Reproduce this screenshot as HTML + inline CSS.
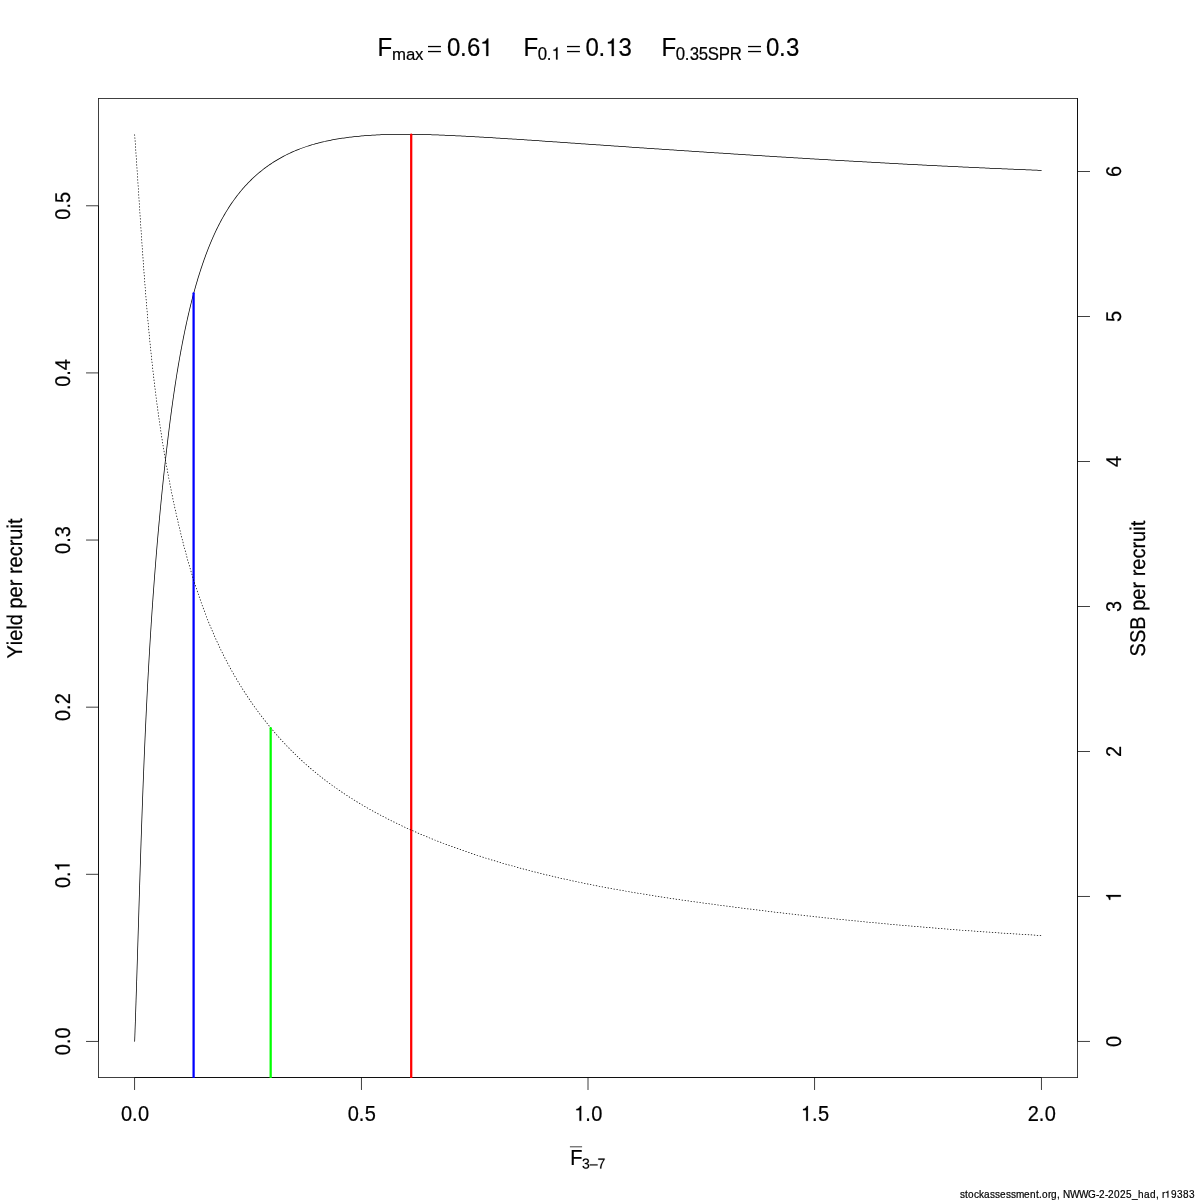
<!DOCTYPE html>
<html><head><meta charset="utf-8"><title>ypr</title>
<style>html,body{margin:0;padding:0;background:#fff}svg{display:block;will-change:transform}text{font-family:"Liberation Sans",sans-serif;fill:#000;font-kerning:none;white-space:pre;stroke:#000;stroke-width:0.2px;stroke-linejoin:round}path.g{stroke:#000;stroke-width:0.2px;stroke-linejoin:round;vector-effect:non-scaling-stroke}</style></head><body>
<svg width="1200" height="1200" viewBox="0 0 1200 1200">
<rect width="1200" height="1200" fill="#fff"/>
<g fill="#000">
<rect x="98.025" y="98.025" width="979.950" height="0.75"/>
<rect x="98.025" y="1077.225" width="979.950" height="0.75"/>
<rect x="98.025" y="98.400" width="0.75" height="979.200"/>
<rect x="1077.225" y="98.400" width="0.75" height="979.200"/>
<rect x="134.670" y="1077.225" width="906.666" height="0.75"/>
<rect x="134.295" y="1077.600" width="0.75" height="12.375"/>
<rect x="360.962" y="1077.600" width="0.75" height="12.375"/>
<rect x="587.628" y="1077.600" width="0.75" height="12.375"/>
<rect x="814.294" y="1077.600" width="0.75" height="12.375"/>
<rect x="1040.961" y="1077.600" width="0.75" height="12.375"/>
<rect x="98.025" y="205.830" width="0.75" height="835.500"/>
<rect x="86.025" y="1040.955" width="12.375" height="0.75"/>
<rect x="86.025" y="873.855" width="12.375" height="0.75"/>
<rect x="86.025" y="706.755" width="12.375" height="0.75"/>
<rect x="86.025" y="539.655" width="12.375" height="0.75"/>
<rect x="86.025" y="372.555" width="12.375" height="0.75"/>
<rect x="86.025" y="205.455" width="12.375" height="0.75"/>
</g>
<path fill="#000" d="M135.04,1041.34 135.10,1039.84 135.15,1038.35 135.20,1036.85 135.25,1035.35 135.31,1033.85 135.36,1032.35 135.41,1030.85 135.46,1029.35 135.51,1027.86 135.56,1026.36 135.62,1024.86 135.67,1023.36 135.72,1021.86 135.77,1020.36 135.82,1018.86 135.87,1017.36 135.92,1015.87 135.97,1014.37 136.02,1012.87 136.07,1011.37 136.12,1009.87 136.17,1008.37 136.22,1006.87 136.27,1005.37 136.32,1003.88 136.37,1002.38 136.41,1000.88 136.46,999.38 136.51,997.88 136.56,996.38 136.61,994.88 136.66,993.38 136.71,991.89 136.75,990.39 136.80,988.89 136.85,987.39 136.90,985.89 136.95,984.39 136.99,982.89 137.04,981.39 137.09,979.90 137.14,978.40 137.18,976.90 137.23,975.40 137.28,973.90 137.33,972.40 137.37,970.90 137.42,969.40 137.47,967.91 137.51,966.41 137.56,964.91 137.61,963.41 137.65,961.91 137.70,960.41 137.75,958.91 137.79,957.41 137.84,955.91 137.89,954.42 137.93,952.92 137.98,951.42 138.03,949.92 138.07,948.42 138.12,946.92 138.17,945.42 138.21,943.92 138.26,942.43 138.31,940.93 138.35,939.43 138.40,937.93 138.44,936.43 138.49,934.93 138.54,933.43 138.58,931.93 138.63,930.43 138.68,928.94 138.72,927.44 138.77,925.94 138.81,924.44 138.86,922.94 138.91,921.44 138.95,919.94 139.00,918.44 139.05,916.95 139.09,915.45 139.14,913.95 139.18,912.45 139.23,910.95 139.28,909.45 139.32,907.95 139.37,906.45 139.42,904.96 139.46,903.46 139.51,901.96 139.56,900.46 139.60,898.96 139.65,897.46 139.70,895.96 139.74,894.46 139.79,892.96 139.84,891.47 139.89,889.97 139.93,888.47 139.98,886.97 140.03,885.47 140.07,883.97 140.12,882.47 140.17,880.97 140.22,879.48 140.26,877.98 140.31,876.48 140.36,874.98 140.41,873.48 140.46,871.98 140.50,870.48 140.55,868.98 140.60,867.49 140.65,865.99 140.70,864.49 140.75,862.99 140.80,861.49 140.84,859.99 140.89,858.49 140.94,857.00 140.99,855.50 141.04,854.00 141.09,852.50 141.14,851.00 141.19,849.50 141.24,848.00 141.29,846.50 141.34,845.01 141.39,843.51 141.44,842.01 141.49,840.51 141.54,839.01 141.59,837.51 141.64,836.01 141.70,834.52 141.75,833.02 141.80,831.52 141.85,830.02 141.90,828.52 141.95,827.02 142.01,825.52 142.06,824.03 142.11,822.53 142.16,821.03 142.22,819.53 142.27,818.03 142.32,816.53 142.38,815.03 142.43,813.54 142.48,812.04 142.54,810.54 142.59,809.04 142.65,807.54 142.70,806.04 142.76,804.54 142.81,803.05 142.87,801.55 142.92,800.05 142.98,798.55 143.03,797.05 143.09,795.55 143.14,794.06 143.20,792.56 143.26,791.06 143.31,789.56 143.37,788.06 143.43,786.56 143.49,785.07 143.54,783.57 143.60,782.07 143.66,780.57 143.72,779.07 143.78,777.57 143.84,776.08 143.90,774.58 143.96,773.08 144.02,771.58 144.08,770.08 144.14,768.58 144.20,767.09 144.26,765.59 144.32,764.09 144.38,762.59 144.44,761.09 144.51,759.59 144.57,758.10 144.63,756.60 144.69,755.10 144.76,753.60 144.82,752.10 144.88,750.61 144.95,749.11 145.01,747.61 145.08,746.11 145.14,744.61 145.21,743.12 145.27,741.62 145.34,740.12 145.40,738.62 145.47,737.12 145.54,735.63 145.60,734.13 145.67,732.63 145.74,731.13 145.81,729.63 145.88,728.14 145.94,726.64 146.01,725.14 146.08,723.64 146.15,722.14 146.22,720.65 146.29,719.15 146.36,717.65 146.43,716.15 146.51,714.66 146.58,713.16 146.65,711.66 146.72,710.16 146.80,708.67 146.87,707.17 146.94,705.67 147.02,704.17 147.09,702.67 147.17,701.18 147.24,699.68 147.32,698.18 147.39,696.68 147.47,695.19 147.54,693.69 147.62,692.19 147.70,690.69 147.78,689.20 147.85,687.70 147.93,686.20 148.01,684.71 148.09,683.21 148.17,681.71 148.25,680.21 148.33,678.72 148.41,677.22 148.49,675.72 148.58,674.22 148.66,672.73 148.74,671.23 148.82,669.73 148.91,668.24 148.99,666.74 149.08,665.24 149.16,663.74 149.25,662.25 149.33,660.75 149.42,659.25 149.50,657.76 149.59,656.26 149.68,654.76 149.77,653.27 149.85,651.77 149.94,650.27 150.03,648.78 150.12,647.28 150.21,645.78 150.30,644.29 150.39,642.79 150.49,641.29 150.58,639.80 150.67,638.30 150.76,636.80 150.86,635.31 150.95,633.81 151.04,632.31 151.14,630.82 151.24,629.32 151.33,627.82 151.43,626.33 151.52,624.83 151.62,623.34 151.72,621.84 151.82,620.34 151.92,618.85 152.02,617.35 152.12,615.86 152.22,614.36 152.32,612.86 152.42,611.37 152.52,609.87 152.62,608.38 152.73,606.88 152.83,605.38 152.93,603.89 153.04,602.39 153.14,600.90 153.25,599.40 153.36,597.91 153.46,596.41 153.57,594.91 153.68,593.42 153.79,591.92 153.90,590.43 154.00,588.93 154.11,587.44 154.23,585.94 154.34,584.45 154.45,582.95 154.56,581.46 154.67,579.96 154.79,578.47 154.90,576.97 155.02,575.48 155.13,573.98 155.25,572.49 155.36,570.99 155.48,569.50 155.60,568.00 155.72,566.51 155.83,565.01 155.95,563.52 156.07,562.02 156.19,560.53 156.32,559.03 156.44,557.54 156.56,556.05 156.68,554.55 156.81,553.06 156.93,551.56 157.05,550.07 157.18,548.57 157.31,547.08 157.43,545.59 157.56,544.09 157.69,542.60 157.82,541.10 157.95,539.61 158.08,538.12 158.21,536.62 158.34,535.13 158.47,533.64 158.60,532.14 158.73,530.65 158.87,529.16 159.00,527.66 159.14,526.17 159.27,524.68 159.41,523.18 159.55,521.69 159.68,520.20 159.82,518.70 159.96,517.21 160.10,515.72 160.24,514.23 160.38,512.73 160.52,511.24 160.67,509.75 160.81,508.25 160.95,506.76 161.10,505.27 161.24,503.78 161.39,502.29 161.54,500.79 161.68,499.30 161.83,497.81 161.98,496.32 162.13,494.83 162.28,493.33 162.43,491.84 162.58,490.35 162.73,488.86 162.89,487.37 163.04,485.88 163.19,484.38 163.35,482.89 163.51,481.40 163.66,479.91 163.82,478.42 163.98,476.93 164.14,475.44 164.30,473.95 164.46,472.46 164.62,470.97 164.78,469.47 164.94,467.98 165.10,466.49 165.27,465.00 165.43,463.51 165.60,462.02 165.76,460.53 165.93,459.04 166.10,457.55 166.27,456.06 166.44,454.57 166.61,453.08 166.78,451.59 166.95,450.10 167.12,448.62 167.30,447.13 167.47,445.64 167.65,444.15 167.82,442.66 168.00,441.17 168.18,439.68 168.35,438.19 168.53,436.70 168.71,435.22 168.90,433.73 169.08,432.24 169.26,430.75 169.45,429.26 169.63,427.78 169.82,426.29 170.01,424.80 170.20,423.31 170.39,421.83 170.58,420.34 170.77,418.85 170.96,417.37 171.16,415.88 171.35,414.39 171.55,412.91 171.75,411.42 171.95,409.94 172.15,408.45 172.36,406.96 172.56,405.48 172.77,403.99 172.97,402.51 173.18,401.03 173.39,399.54 173.61,398.06 173.82,396.57 174.03,395.09 174.25,393.61 174.47,392.12 174.69,390.64 174.91,389.16 175.13,387.67 175.36,386.19 175.58,384.71 175.81,383.23 176.04,381.75 176.27,380.27 176.51,378.79 176.74,377.31 176.98,375.83 177.22,374.35 177.46,372.87 177.70,371.39 177.95,369.91 178.20,368.43 178.44,366.95 178.70,365.47 178.95,364.00 179.20,362.52 179.46,361.04 179.72,359.57 179.98,358.09 180.24,356.61 180.51,355.14 180.78,353.66 181.05,352.19 181.32,350.71 181.59,349.24 181.87,347.77 182.15,346.29 182.43,344.82 182.71,343.35 183.00,341.88 183.28,340.41 183.57,338.94 183.87,337.47 184.16,336.00 184.46,334.53 184.76,333.06 185.06,331.59 185.37,330.12 185.67,328.66 185.98,327.19 186.30,325.73 186.61,324.26 186.93,322.80 187.25,321.33 187.58,319.87 187.90,318.41 188.24,316.94 188.57,315.48 188.91,314.02 189.25,312.56 189.59,311.10 189.94,309.65 190.29,308.19 190.64,306.73 191.00,305.28 191.36,303.82 191.72,302.37 192.09,300.92 192.46,299.47 192.84,298.01 193.22,296.56 193.60,295.12 193.99,293.67 194.38,292.22 194.78,290.78 195.18,289.33 195.58,287.89 195.99,286.45 196.40,285.01 196.82,283.57 197.24,282.13 197.67,280.70 198.10,279.26 198.53,277.83 198.97,276.39 199.42,274.96 199.87,273.53 200.32,272.11 200.78,270.68 201.25,269.26 201.72,267.83 202.19,266.41 202.67,264.99 203.16,263.58 203.65,262.16 204.14,260.75 204.64,259.33 205.15,257.92 205.66,256.52 206.18,255.11 206.70,253.71 207.23,252.30 207.76,250.91 208.30,249.51 208.85,248.11 209.40,246.72 209.96,245.33 210.53,243.95 211.11,242.57 211.69,241.19 212.28,239.81 212.87,238.43 213.48,237.06 214.09,235.70 214.71,234.33 215.34,232.98 215.97,231.62 216.61,230.27 217.27,228.92 217.93,227.58 218.60,226.24 219.27,224.90 219.96,223.57 220.66,222.25 221.36,220.93 222.08,219.61 222.80,218.30 223.53,217.00 224.28,215.70 225.03,214.40 225.79,213.12 226.56,211.83 227.35,210.56 228.14,209.29 228.94,208.02 229.75,206.77 230.57,205.52 231.41,204.27 232.25,203.04 233.10,201.81 233.97,200.59 234.84,199.37 235.73,198.17 236.62,196.97 237.53,195.78 238.45,194.60 239.38,193.43 240.32,192.26 241.27,191.11 242.23,189.96 243.21,188.83 244.19,187.70 245.19,186.59 246.20,185.49 247.22,184.39 248.25,183.31 249.29,182.24 250.35,181.18 251.42,180.13 252.49,179.09 253.58,178.07 254.68,177.05 255.79,176.05 256.91,175.06 258.04,174.08 259.18,173.12 260.34,172.16 261.50,171.22 262.67,170.29 263.85,169.37 265.04,168.47 266.24,167.58 267.45,166.70 268.67,165.83 269.90,164.98 271.14,164.14 272.39,163.32 273.64,162.50 274.91,161.70 276.18,160.92 277.46,160.14 278.75,159.38 280.04,158.64 281.35,157.91 282.66,157.19 283.98,156.49 285.31,155.80 286.64,155.12 287.98,154.46 289.33,153.81 290.68,153.18 292.05,152.56 293.41,151.95 294.79,151.36 296.16,150.78 297.55,150.21 298.94,149.66 300.33,149.12 301.74,148.59 303.14,148.08 304.55,147.58 305.97,147.10 307.39,146.62 308.81,146.16 310.24,145.71 311.67,145.28 313.10,144.85 314.54,144.44 315.98,144.04 317.43,143.65 318.88,143.28 320.33,142.91 321.78,142.55 323.24,142.21 324.70,141.87 326.16,141.55 327.62,141.24 329.09,140.93 330.56,140.64 332.03,140.35 333.50,140.08 334.97,139.81 336.45,139.55 337.92,139.31 339.40,139.07 340.88,138.83 342.36,138.61 343.84,138.40 345.33,138.19 346.81,137.99 348.30,137.79 349.78,137.61 351.27,137.43 352.76,137.26 354.25,137.10 355.73,136.94 357.22,136.79 358.72,136.64 360.21,136.50 361.70,136.37 363.19,136.24 364.69,136.11 366.18,136.00 367.67,135.89 369.17,135.78 370.66,135.68 372.16,135.58 373.65,135.49 375.15,135.41 376.64,135.33 378.14,135.25 379.64,135.18 381.13,135.11 382.63,135.05 384.13,135.00 385.63,134.94 387.12,134.90 388.62,134.85 390.12,134.82 391.62,134.78 393.12,134.75 394.61,134.72 396.11,134.70 397.61,134.68 399.11,134.67 400.61,134.66 402.11,134.65 403.61,134.65 405.10,134.65 406.60,134.65 408.10,134.66 409.60,134.67 411.10,134.68 412.60,134.70 414.10,134.72 415.59,134.74 417.09,134.76 418.59,134.79 420.09,134.82 421.59,134.86 423.09,134.89 424.59,134.93 426.08,134.97 427.58,135.01 429.08,135.06 430.58,135.11 432.08,135.16 433.58,135.21 435.07,135.26 436.57,135.31 438.07,135.37 439.57,135.43 441.07,135.49 442.56,135.55 444.06,135.61 445.56,135.68 447.06,135.74 448.55,135.81 450.05,135.87 451.55,135.94 453.05,136.01 454.55,136.08 456.04,136.15 457.54,136.22 459.04,136.30 460.54,136.37 462.03,136.45 463.53,136.52 465.03,136.60 466.53,136.67 468.02,136.75 469.52,136.83 471.02,136.91 472.51,136.99 474.01,137.07 475.51,137.15 477.01,137.24 478.50,137.32 480.00,137.41 481.50,137.49 482.99,137.58 484.49,137.66 485.99,137.75 487.48,137.84 488.98,137.92 490.48,138.01 491.97,138.10 493.47,138.19 494.97,138.28 496.46,138.38 497.96,138.47 499.46,138.56 500.95,138.65 502.45,138.75 503.95,138.84 505.44,138.93 506.94,139.03 508.44,139.13 509.93,139.22 511.43,139.32 512.92,139.41 514.42,139.51 515.92,139.61 517.41,139.71 518.91,139.81 520.41,139.90 521.90,140.00 523.40,140.10 524.89,140.20 526.39,140.30 527.89,140.40 529.38,140.51 530.88,140.61 532.37,140.71 533.87,140.81 535.37,140.91 536.86,141.01 538.36,141.12 539.85,141.22 541.35,141.32 542.85,141.42 544.34,141.53 545.84,141.63 547.33,141.73 548.83,141.84 550.33,141.94 551.82,142.05 553.32,142.15 554.81,142.25 556.31,142.36 557.81,142.46 559.30,142.57 560.80,142.67 562.29,142.77 563.79,142.88 565.28,142.98 566.78,143.09 568.28,143.19 569.77,143.29 571.27,143.40 572.76,143.50 574.26,143.61 575.76,143.71 577.25,143.81 578.75,143.92 580.24,144.02 581.74,144.13 583.24,144.23 584.73,144.33 586.23,144.44 587.72,144.54 589.22,144.64 590.72,144.75 592.21,144.85 593.71,144.96 595.20,145.06 596.70,145.16 598.20,145.27 599.69,145.37 601.19,145.47 602.68,145.58 604.18,145.68 605.68,145.78 607.17,145.88 608.67,145.99 610.16,146.09 611.66,146.19 613.16,146.30 614.65,146.40 616.15,146.50 617.64,146.61 619.14,146.71 620.64,146.81 622.13,146.91 623.63,147.02 625.12,147.12 626.62,147.22 628.12,147.32 629.61,147.42 631.11,147.53 632.60,147.63 634.10,147.73 635.60,147.83 637.09,147.94 638.59,148.04 640.08,148.14 641.58,148.24 643.08,148.34 644.57,148.44 646.07,148.55 647.56,148.65 649.06,148.75 650.56,148.85 652.05,148.95 653.55,149.05 655.05,149.15 656.54,149.25 658.04,149.36 659.53,149.46 661.03,149.56 662.53,149.66 664.02,149.76 665.52,149.86 667.01,149.96 668.51,150.06 670.01,150.16 671.50,150.26 673.00,150.36 674.50,150.46 675.99,150.56 677.49,150.66 678.98,150.76 680.48,150.86 681.98,150.96 683.47,151.06 684.97,151.16 686.47,151.26 687.96,151.36 689.46,151.46 690.95,151.56 692.45,151.66 693.95,151.76 695.44,151.85 696.94,151.95 698.44,152.05 699.93,152.15 701.43,152.25 702.92,152.35 704.42,152.45 705.92,152.54 707.41,152.64 708.91,152.74 710.41,152.84 711.90,152.94 713.40,153.03 714.90,153.13 716.39,153.23 717.89,153.33 719.38,153.42 720.88,153.52 722.38,153.62 723.87,153.72 725.37,153.81 726.87,153.91 728.36,154.01 729.86,154.10 731.36,154.20 732.85,154.30 734.35,154.39 735.84,154.49 737.34,154.58 738.84,154.68 740.33,154.78 741.83,154.87 743.33,154.97 744.82,155.06 746.32,155.16 747.82,155.25 749.31,155.35 750.81,155.44 752.31,155.54 753.80,155.63 755.30,155.73 756.80,155.82 758.29,155.92 759.79,156.01 761.29,156.11 762.78,156.20 764.28,156.29 765.78,156.39 767.27,156.48 768.77,156.58 770.27,156.67 771.76,156.76 773.26,156.86 774.76,156.95 776.25,157.04 777.75,157.13 779.25,157.23 780.74,157.32 782.24,157.41 783.74,157.50 785.23,157.60 786.73,157.69 788.23,157.78 789.72,157.87 791.22,157.96 792.72,158.05 794.21,158.15 795.71,158.24 797.21,158.33 798.70,158.42 800.20,158.51 801.70,158.60 803.19,158.69 804.69,158.78 806.19,158.87 807.68,158.96 809.18,159.05 810.68,159.14 812.18,159.23 813.67,159.32 815.17,159.41 816.67,159.50 818.16,159.59 819.66,159.68 821.16,159.77 822.65,159.85 824.15,159.94 825.65,160.03 827.14,160.12 828.64,160.21 830.14,160.29 831.64,160.38 833.13,160.47 834.63,160.56 836.13,160.64 837.62,160.73 839.12,160.82 840.62,160.91 842.11,160.99 843.61,161.08 845.11,161.16 846.61,161.25 848.10,161.34 849.60,161.42 851.10,161.51 852.59,161.59 854.09,161.68 855.59,161.76 857.09,161.85 858.58,161.93 860.08,162.02 861.58,162.10 863.07,162.19 864.57,162.27 866.07,162.35 867.57,162.44 869.06,162.52 870.56,162.60 872.06,162.69 873.56,162.77 875.05,162.85 876.55,162.94 878.05,163.02 879.54,163.10 881.04,163.18 882.54,163.26 884.04,163.35 885.53,163.43 887.03,163.51 888.53,163.59 890.03,163.67 891.52,163.75 893.02,163.83 894.52,163.91 896.02,163.99 897.51,164.07 899.01,164.15 900.51,164.23 902.01,164.31 903.50,164.39 905.00,164.47 906.50,164.55 908.00,164.63 909.49,164.71 910.99,164.79 912.49,164.86 913.99,164.94 915.48,165.02 916.98,165.10 918.48,165.17 919.98,165.25 921.47,165.33 922.97,165.40 924.47,165.48 925.97,165.56 927.46,165.63 928.96,165.71 930.46,165.79 931.96,165.86 933.45,165.94 934.95,166.01 936.45,166.09 937.95,166.16 939.45,166.24 940.94,166.31 942.44,166.38 943.94,166.46 945.44,166.53 946.93,166.60 948.43,166.68 949.93,166.75 951.43,166.82 952.93,166.90 954.42,166.97 955.92,167.04 957.42,167.11 958.92,167.18 960.41,167.26 961.91,167.33 963.41,167.40 964.91,167.47 966.41,167.54 967.90,167.61 969.40,167.68 970.90,167.75 972.40,167.82 973.90,167.89 975.39,167.96 976.89,168.03 978.39,168.10 979.89,168.17 981.39,168.23 982.88,168.30 984.38,168.37 985.88,168.44 987.38,168.51 988.88,168.57 990.37,168.64 991.87,168.71 993.37,168.77 994.87,168.84 996.37,168.91 997.86,168.97 999.36,169.04 1000.86,169.10 1002.36,169.17 1003.86,169.23 1005.36,169.30 1006.85,169.36 1008.35,169.43 1009.85,169.49 1011.35,169.55 1012.85,169.62 1014.35,169.68 1015.84,169.74 1017.34,169.81 1018.84,169.87 1020.34,169.93 1021.84,169.99 1023.33,170.05 1024.83,170.12 1026.33,170.18 1027.83,170.24 1029.33,170.30 1030.83,170.36 1032.32,170.42 1033.82,170.48 1035.32,170.54 1036.82,170.60 1038.32,170.66 1039.82,170.72 1041.32,170.77 1041.50,170.73 1041.65,170.60 1041.70,170.41 1041.66,170.23 1041.53,170.08 1041.34,170.03 1039.85,169.97 1038.35,169.91 1036.85,169.85 1035.35,169.79 1033.85,169.73 1032.35,169.67 1030.86,169.61 1029.36,169.55 1027.86,169.49 1026.36,169.43 1024.86,169.37 1023.37,169.30 1021.87,169.24 1020.37,169.18 1018.87,169.12 1017.37,169.06 1015.87,168.99 1014.38,168.93 1012.88,168.87 1011.38,168.80 1009.88,168.74 1008.38,168.68 1006.89,168.61 1005.39,168.55 1003.89,168.48 1002.39,168.42 1000.89,168.35 999.40,168.29 997.90,168.22 996.40,168.16 994.90,168.09 993.40,168.02 991.91,167.96 990.41,167.89 988.91,167.82 987.41,167.76 985.91,167.69 984.42,167.62 982.92,167.55 981.42,167.49 979.92,167.42 978.42,167.35 976.93,167.28 975.43,167.21 973.93,167.14 972.43,167.07 970.93,167.00 969.44,166.93 967.94,166.86 966.44,166.79 964.94,166.72 963.45,166.65 961.95,166.58 960.45,166.51 958.95,166.44 957.45,166.36 955.96,166.29 954.46,166.22 952.96,166.15 951.46,166.07 949.97,166.00 948.47,165.93 946.97,165.86 945.47,165.78 943.98,165.71 942.48,165.63 940.98,165.56 939.48,165.49 937.98,165.41 936.49,165.34 934.99,165.26 933.49,165.19 931.99,165.11 930.50,165.04 929.00,164.96 927.50,164.88 926.00,164.81 924.51,164.73 923.01,164.66 921.51,164.58 920.01,164.50 918.52,164.42 917.02,164.35 915.52,164.27 914.02,164.19 912.53,164.11 911.03,164.04 909.53,163.96 908.03,163.88 906.54,163.80 905.04,163.72 903.54,163.64 902.04,163.56 900.55,163.48 899.05,163.40 897.55,163.32 896.06,163.24 894.56,163.16 893.06,163.08 891.56,163.00 890.07,162.92 888.57,162.84 887.07,162.76 885.57,162.68 884.08,162.60 882.58,162.52 881.08,162.43 879.59,162.35 878.09,162.27 876.59,162.19 875.09,162.10 873.60,162.02 872.10,161.94 870.60,161.86 869.11,161.77 867.61,161.69 866.11,161.60 864.61,161.52 863.12,161.44 861.62,161.35 860.12,161.27 858.63,161.18 857.13,161.10 855.63,161.01 854.13,160.93 852.64,160.84 851.14,160.76 849.64,160.67 848.15,160.59 846.65,160.50 845.15,160.42 843.65,160.33 842.16,160.24 840.66,160.16 839.16,160.07 837.67,159.98 836.17,159.90 834.67,159.81 833.18,159.72 831.68,159.63 830.18,159.55 828.69,159.46 827.19,159.37 825.69,159.28 824.19,159.19 822.70,159.11 821.20,159.02 819.70,158.93 818.21,158.84 816.71,158.75 815.21,158.66 813.72,158.57 812.22,158.48 810.72,158.39 809.23,158.30 807.73,158.21 806.23,158.12 804.74,158.03 803.24,157.94 801.74,157.85 800.25,157.76 798.75,157.67 797.25,157.58 795.76,157.49 794.26,157.40 792.76,157.31 791.27,157.21 789.77,157.12 788.27,157.03 786.78,156.94 785.28,156.85 783.78,156.76 782.29,156.66 780.79,156.57 779.29,156.48 777.80,156.39 776.30,156.29 774.80,156.20 773.31,156.11 771.81,156.01 770.31,155.92 768.82,155.83 767.32,155.73 765.82,155.64 764.33,155.55 762.83,155.45 761.33,155.36 759.84,155.26 758.34,155.17 756.84,155.07 755.35,154.98 753.85,154.89 752.35,154.79 750.86,154.70 749.36,154.60 747.86,154.51 746.37,154.41 744.87,154.31 743.38,154.22 741.88,154.12 740.38,154.03 738.89,153.93 737.39,153.84 735.89,153.74 734.40,153.64 732.90,153.55 731.40,153.45 729.91,153.35 728.41,153.26 726.91,153.16 725.42,153.06 723.92,152.97 722.43,152.87 720.93,152.77 719.43,152.68 717.94,152.58 716.44,152.48 714.94,152.38 713.45,152.29 711.95,152.19 710.45,152.09 708.96,151.99 707.46,151.89 705.97,151.80 704.47,151.70 702.97,151.60 701.48,151.50 699.98,151.40 698.48,151.30 696.99,151.20 695.49,151.11 694.00,151.01 692.50,150.91 691.00,150.81 689.51,150.71 688.01,150.61 686.51,150.51 685.02,150.41 683.52,150.31 682.03,150.21 680.53,150.11 679.03,150.01 677.54,149.91 676.04,149.81 674.55,149.71 673.05,149.61 671.55,149.51 670.06,149.41 668.56,149.31 667.06,149.21 665.57,149.11 664.07,149.01 662.58,148.91 661.08,148.81 659.58,148.71 658.09,148.61 656.59,148.51 655.10,148.41 653.60,148.30 652.10,148.20 650.61,148.10 649.11,148.00 647.62,147.90 646.12,147.80 644.62,147.70 643.13,147.59 641.63,147.49 640.14,147.39 638.64,147.29 637.14,147.19 635.65,147.08 634.15,146.98 632.65,146.88 631.16,146.78 629.66,146.68 628.17,146.57 626.67,146.47 625.17,146.37 623.68,146.27 622.18,146.16 620.69,146.06 619.19,145.96 617.69,145.86 616.20,145.75 614.70,145.65 613.21,145.55 611.71,145.45 610.21,145.34 608.72,145.24 607.22,145.14 605.73,145.03 604.23,144.93 602.74,144.83 601.24,144.72 599.74,144.62 598.25,144.52 596.75,144.41 595.26,144.31 593.76,144.21 592.26,144.10 590.77,144.00 589.27,143.90 587.78,143.79 586.28,143.69 584.78,143.59 583.29,143.48 581.79,143.38 580.30,143.27 578.80,143.17 577.30,143.07 575.81,142.96 574.31,142.86 572.82,142.75 571.32,142.65 569.82,142.55 568.33,142.44 566.83,142.34 565.34,142.23 563.84,142.13 562.35,142.03 560.85,141.92 559.35,141.82 557.86,141.71 556.36,141.61 554.87,141.51 553.37,141.40 551.87,141.30 550.38,141.19 548.88,141.09 547.39,140.99 545.89,140.88 544.39,140.78 542.90,140.68 541.40,140.57 539.91,140.47 538.41,140.37 536.91,140.27 535.42,140.16 533.92,140.06 532.43,139.96 530.93,139.86 529.43,139.76 527.94,139.66 526.44,139.56 524.94,139.46 523.45,139.36 521.95,139.26 520.46,139.16 518.96,139.06 517.46,138.96 515.97,138.86 514.47,138.76 512.97,138.67 511.48,138.57 509.98,138.47 508.48,138.38 506.99,138.28 505.49,138.19 503.99,138.09 502.50,138.00 501.00,137.90 499.50,137.81 498.01,137.72 496.51,137.63 495.01,137.54 493.52,137.44 492.02,137.35 490.52,137.26 489.03,137.18 487.53,137.09 486.03,137.00 484.53,136.91 483.04,136.83 481.54,136.74 480.04,136.66 478.54,136.57 477.05,136.49 475.55,136.41 474.05,136.32 472.55,136.24 471.06,136.16 469.56,136.08 468.06,136.00 466.56,135.93 465.07,135.85 463.57,135.77 462.07,135.70 460.57,135.62 459.08,135.55 457.58,135.48 456.08,135.40 454.58,135.33 453.08,135.26 451.58,135.19 450.09,135.12 448.59,135.06 447.09,134.99 445.59,134.93 444.09,134.86 442.59,134.80 441.10,134.74 439.60,134.68 438.10,134.62 436.60,134.56 435.10,134.51 433.60,134.46 432.10,134.41 430.60,134.36 429.10,134.31 427.60,134.26 426.11,134.22 424.61,134.18 423.11,134.14 421.61,134.11 420.11,134.07 418.61,134.04 417.11,134.01 415.61,133.99 414.11,133.97 412.61,133.95 411.11,133.93 409.61,133.92 408.11,133.91 406.61,133.90 405.10,133.90 403.60,133.90 402.10,133.90 400.60,133.91 399.10,133.92 397.60,133.93 396.10,133.95 394.60,133.97 393.10,134.00 391.60,134.03 390.10,134.07 388.60,134.10 387.10,134.15 385.60,134.19 384.10,134.25 382.60,134.30 381.10,134.36 379.60,134.43 378.10,134.50 376.61,134.58 375.11,134.66 373.61,134.74 372.11,134.83 370.61,134.93 369.12,135.03 367.62,135.14 366.12,135.25 364.62,135.37 363.13,135.49 361.63,135.62 360.14,135.75 358.64,135.89 357.15,136.04 355.66,136.19 354.16,136.35 352.67,136.51 351.18,136.69 349.69,136.87 348.20,137.05 346.71,137.24 345.22,137.44 343.74,137.65 342.25,137.87 340.77,138.09 339.28,138.32 337.80,138.57 336.32,138.81 334.84,139.07 333.36,139.34 331.89,139.62 330.41,139.90 328.94,140.20 327.47,140.50 326.00,140.82 324.53,141.14 323.07,141.48 321.61,141.82 320.15,142.18 318.69,142.55 317.24,142.93 315.79,143.32 314.34,143.72 312.89,144.13 311.45,144.56 310.02,145.00 308.58,145.45 307.15,145.91 305.73,146.39 304.30,146.88 302.89,147.38 301.48,147.89 300.07,148.42 298.67,148.96 297.27,149.52 295.88,150.08 294.49,150.67 293.11,151.26 291.74,151.87 290.37,152.50 289.01,153.13 287.65,153.78 286.30,154.45 284.96,155.13 283.63,155.82 282.30,156.53 280.98,157.25 279.67,157.99 278.37,158.74 277.07,159.50 275.79,160.28 274.51,161.07 273.24,161.87 271.98,162.69 270.72,163.52 269.48,164.36 268.24,165.22 267.02,166.09 265.80,166.97 264.59,167.87 263.40,168.78 262.21,169.70 261.03,170.63 259.86,171.58 258.70,172.54 257.55,173.51 256.42,174.49 255.29,175.49 254.17,176.50 253.07,177.52 251.98,178.55 250.89,179.59 249.82,180.65 248.76,181.71 247.71,182.79 246.67,183.88 245.65,184.98 244.64,186.09 243.63,187.21 242.64,188.34 241.66,189.48 240.69,190.63 239.74,191.79 238.79,192.96 237.86,194.13 236.94,195.32 236.02,196.52 235.12,197.72 234.23,198.93 233.36,200.15 232.49,201.38 231.63,202.61 230.78,203.85 229.95,205.10 229.12,206.36 228.31,207.62 227.50,208.89 226.71,210.16 225.92,211.44 225.15,212.73 224.38,214.02 223.63,215.32 222.88,216.63 222.15,217.94 221.42,219.25 220.70,220.57 220.00,221.90 219.30,223.23 218.61,224.56 217.93,225.90 217.26,227.24 216.59,228.59 215.94,229.94 215.29,231.30 214.66,232.66 214.03,234.02 213.40,235.39 212.79,236.76 212.19,238.13 211.59,239.51 211.00,240.89 210.41,242.28 209.84,243.66 209.27,245.05 208.71,246.44 208.15,247.84 207.60,249.24 207.06,250.64 206.53,252.04 206.00,253.44 205.47,254.85 204.95,256.26 204.44,257.67 203.93,259.08 203.43,260.50 202.94,261.91 202.45,263.33 201.96,264.75 201.48,266.17 201.00,267.60 200.53,269.02 200.07,270.45 199.61,271.88 199.15,273.31 198.70,274.74 198.26,276.17 197.82,277.61 197.38,279.04 196.95,280.48 196.52,281.92 196.10,283.36 195.68,284.80 195.27,286.24 194.86,287.69 194.45,289.13 194.05,290.58 193.66,292.03 193.26,293.47 192.88,294.92 192.49,296.37 192.11,297.83 191.74,299.28 191.36,300.73 190.99,302.19 190.63,303.64 190.27,305.10 189.91,306.56 189.56,308.01 189.21,309.47 188.86,310.93 188.52,312.39 188.17,313.85 187.84,315.32 187.50,316.78 187.17,318.24 186.85,319.71 186.52,321.17 186.20,322.64 185.88,324.10 185.56,325.57 185.25,327.04 184.94,328.50 184.63,329.97 184.33,331.44 184.02,332.91 183.72,334.38 183.43,335.85 183.13,337.32 182.84,338.79 182.55,340.26 182.26,341.74 181.97,343.21 181.69,344.68 181.41,346.15 181.13,347.63 180.85,349.10 180.58,350.58 180.31,352.05 180.04,353.53 179.77,355.00 179.50,356.48 179.24,357.96 178.98,359.44 178.72,360.91 178.46,362.39 178.21,363.87 177.96,365.35 177.70,366.83 177.46,368.31 177.21,369.79 176.96,371.26 176.72,372.75 176.48,374.23 176.24,375.71 176.00,377.19 175.77,378.67 175.53,380.15 175.30,381.63 175.07,383.11 174.84,384.60 174.62,386.08 174.39,387.56 174.17,389.05 173.95,390.53 173.73,392.01 173.51,393.50 173.29,394.98 173.08,396.47 172.86,397.95 172.65,399.44 172.44,400.92 172.23,402.41 172.02,403.89 171.82,405.38 171.61,406.86 171.41,408.35 171.21,409.83 171.01,411.32 170.81,412.81 170.61,414.29 170.41,415.78 170.22,417.27 170.03,418.76 169.83,420.24 169.64,421.73 169.45,423.22 169.26,424.71 169.07,426.19 168.89,427.68 168.70,429.17 168.52,430.66 168.33,432.15 168.15,433.64 167.97,435.13 167.79,436.61 167.61,438.10 167.43,439.59 167.25,441.08 167.08,442.57 166.90,444.06 166.73,445.55 166.55,447.04 166.38,448.53 166.21,450.02 166.03,451.51 165.86,453.00 165.69,454.49 165.52,455.98 165.35,457.47 165.19,458.96 165.02,460.45 164.85,461.94 164.69,463.43 164.52,464.92 164.36,466.41 164.20,467.90 164.03,469.39 163.87,470.88 163.71,472.38 163.55,473.87 163.39,475.36 163.23,476.85 163.07,478.34 162.92,479.83 162.76,481.32 162.60,482.81 162.45,484.31 162.29,485.80 162.14,487.29 161.99,488.78 161.84,490.27 161.68,491.77 161.53,493.26 161.38,494.75 161.23,496.24 161.08,497.73 160.94,499.23 160.79,500.72 160.64,502.21 160.50,503.70 160.35,505.20 160.21,506.69 160.06,508.18 159.92,509.68 159.78,511.17 159.64,512.66 159.50,514.15 159.35,515.65 159.22,517.14 159.08,518.63 158.94,520.13 158.80,521.62 158.66,523.11 158.53,524.61 158.39,526.10 158.26,527.59 158.12,529.09 157.99,530.58 157.85,532.08 157.72,533.57 157.59,535.06 157.46,536.56 157.33,538.05 157.20,539.55 157.07,541.04 156.94,542.53 156.81,544.03 156.69,545.52 156.56,547.02 156.43,548.51 156.31,550.01 156.18,551.50 156.06,552.99 155.93,554.49 155.81,555.98 155.69,557.48 155.57,558.97 155.45,560.47 155.33,561.96 155.21,563.46 155.09,564.95 154.97,566.45 154.85,567.94 154.73,569.44 154.62,570.93 154.50,572.43 154.38,573.92 154.27,575.42 154.15,576.91 154.04,578.41 153.93,579.90 153.81,581.40 153.70,582.90 153.59,584.39 153.48,585.89 153.37,587.38 153.26,588.88 153.15,590.37 153.04,591.87 152.93,593.36 152.82,594.86 152.71,596.36 152.61,597.85 152.50,599.35 152.40,600.84 152.29,602.34 152.19,603.84 152.08,605.33 151.98,606.83 151.88,608.32 151.77,609.82 151.67,611.32 151.57,612.81 151.47,614.31 151.37,615.81 151.27,617.30 151.17,618.80 151.07,620.29 150.97,621.79 150.87,623.29 150.78,624.78 150.68,626.28 150.58,627.78 150.49,629.27 150.39,630.77 150.30,632.27 150.20,633.76 150.11,635.26 150.01,636.76 149.92,638.25 149.83,639.75 149.74,641.25 149.65,642.74 149.55,644.24 149.46,645.74 149.37,647.23 149.28,648.73 149.19,650.23 149.11,651.73 149.02,653.22 148.93,654.72 148.84,656.22 148.76,657.71 148.67,659.21 148.58,660.71 148.50,662.21 148.41,663.70 148.33,665.20 148.24,666.70 148.16,668.19 148.07,669.69 147.99,671.19 147.91,672.69 147.83,674.18 147.75,675.68 147.66,677.18 147.58,678.68 147.50,680.17 147.42,681.67 147.34,683.17 147.26,684.67 147.18,686.16 147.11,687.66 147.03,689.16 146.95,690.66 146.87,692.15 146.80,693.65 146.72,695.15 146.64,696.65 146.57,698.14 146.49,699.64 146.42,701.14 146.34,702.64 146.27,704.14 146.19,705.63 146.12,707.13 146.05,708.63 145.97,710.13 145.90,711.62 145.83,713.12 145.76,714.62 145.69,716.12 145.61,717.62 145.54,719.11 145.47,720.61 145.40,722.11 145.33,723.61 145.26,725.11 145.20,726.60 145.13,728.10 145.06,729.60 144.99,731.10 144.92,732.60 144.85,734.09 144.79,735.59 144.72,737.09 144.65,738.59 144.59,740.09 144.52,741.58 144.46,743.08 144.39,744.58 144.33,746.08 144.26,747.58 144.20,749.08 144.13,750.57 144.07,752.07 144.01,753.57 143.94,755.07 143.88,756.57 143.82,758.07 143.76,759.56 143.69,761.06 143.63,762.56 143.57,764.06 143.51,765.56 143.45,767.06 143.39,768.55 143.33,770.05 143.27,771.55 143.21,773.05 143.15,774.55 143.09,776.05 143.03,777.54 142.97,779.04 142.91,780.54 142.85,782.04 142.80,783.54 142.74,785.04 142.68,786.53 142.62,788.03 142.57,789.53 142.51,791.03 142.45,792.53 142.40,794.03 142.34,795.53 142.28,797.02 142.23,798.52 142.17,800.02 142.12,801.52 142.06,803.02 142.01,804.52 141.95,806.02 141.90,807.51 141.84,809.01 141.79,810.51 141.73,812.01 141.68,813.51 141.63,815.01 141.57,816.51 141.52,818.00 141.47,819.50 141.41,821.00 141.36,822.50 141.31,824.00 141.26,825.50 141.20,827.00 141.15,828.50 141.10,829.99 141.05,831.49 141.00,832.99 140.95,834.49 140.89,835.99 140.84,837.49 140.79,838.99 140.74,840.48 140.69,841.98 140.64,843.48 140.59,844.98 140.54,846.48 140.49,847.98 140.44,849.48 140.39,850.98 140.34,852.47 140.29,853.97 140.24,855.47 140.19,856.97 140.14,858.47 140.10,859.97 140.05,861.47 140.00,862.97 139.95,864.46 139.90,865.96 139.85,867.46 139.80,868.96 139.76,870.46 139.71,871.96 139.66,873.46 139.61,874.96 139.56,876.45 139.52,877.95 139.47,879.45 139.42,880.95 139.37,882.45 139.32,883.95 139.28,885.45 139.23,886.95 139.18,888.44 139.14,889.94 139.09,891.44 139.04,892.94 138.99,894.44 138.95,895.94 138.90,897.44 138.85,898.94 138.81,900.44 138.76,901.93 138.71,903.43 138.67,904.93 138.62,906.43 138.57,907.93 138.53,909.43 138.48,910.93 138.44,912.43 138.39,913.92 138.34,915.42 138.30,916.92 138.25,918.42 138.20,919.92 138.16,921.42 138.11,922.92 138.06,924.42 138.02,925.92 137.97,927.41 137.93,928.91 137.88,930.41 137.83,931.91 137.79,933.41 137.74,934.91 137.69,936.41 137.65,937.91 137.60,939.40 137.56,940.90 137.51,942.40 137.46,943.90 137.42,945.40 137.37,946.90 137.32,948.40 137.28,949.90 137.23,951.39 137.18,952.89 137.14,954.39 137.09,955.89 137.05,957.39 137.00,958.89 136.95,960.39 136.91,961.89 136.86,963.39 136.81,964.88 136.76,966.38 136.72,967.88 136.67,969.38 136.62,970.88 136.58,972.38 136.53,973.88 136.48,975.38 136.43,976.87 136.39,978.37 136.34,979.87 136.29,981.37 136.24,982.87 136.20,984.37 136.15,985.87 136.10,987.37 136.05,988.86 136.00,990.36 135.96,991.86 135.91,993.36 135.86,994.86 135.81,996.36 135.76,997.86 135.71,999.36 135.67,1000.85 135.62,1002.35 135.57,1003.85 135.52,1005.35 135.47,1006.85 135.42,1008.35 135.37,1009.85 135.32,1011.34 135.27,1012.84 135.22,1014.34 135.17,1015.84 135.12,1017.34 135.07,1018.84 135.02,1020.34 134.97,1021.84 134.92,1023.33 134.87,1024.83 134.82,1026.33 134.76,1027.83 134.71,1029.33 134.66,1030.83 134.61,1032.33 134.56,1033.82 134.51,1035.32 134.45,1036.82 134.40,1038.32 134.35,1039.82 134.30,1041.32 134.34,1041.51 134.47,1041.65 134.66,1041.70 134.85,1041.66 134.99,1041.53Z"/>
<g fill="#f00"><rect x="410.078" y="134.67" width="2.25" height="943.33"/><circle cx="411.203" cy="134.67" r="1.125"/></g>
<g fill="#00f"><rect x="192.478" y="293.30" width="2.25" height="784.70"/><circle cx="193.603" cy="293.30" r="1.125"/></g>
<path fill="#000" d="M135.10,135.39 135.01,135.66 134.75,135.79 134.48,135.70 134.35,135.44 134.30,134.70 134.39,134.42 134.64,134.30 134.92,134.39 135.04,134.64ZM135.31,138.38 135.22,138.66 134.96,138.78 134.69,138.69 134.56,138.44 134.51,137.69 134.60,137.42 134.86,137.29 135.13,137.38 135.26,137.64ZM135.52,141.38 135.43,141.65 135.17,141.78 134.90,141.69 134.77,141.43 134.72,140.68 134.81,140.41 135.07,140.28 135.34,140.37 135.47,140.63ZM135.73,144.37 135.64,144.64 135.38,144.77 135.11,144.68 134.98,144.42 134.93,143.67 135.02,143.40 135.28,143.27 135.55,143.36 135.68,143.62ZM135.93,147.36 135.84,147.64 135.59,147.76 135.31,147.67 135.19,147.41 135.13,146.67 135.23,146.39 135.48,146.27 135.75,146.36 135.88,146.61ZM136.14,150.36 136.05,150.63 135.79,150.76 135.52,150.66 135.39,150.41 135.34,149.66 135.43,149.39 135.69,149.26 135.96,149.35 136.09,149.61ZM136.34,153.35 136.25,153.62 136.00,153.75 135.72,153.66 135.60,153.40 135.55,152.65 135.64,152.38 135.89,152.25 136.17,152.34 136.29,152.60ZM136.55,156.34 136.46,156.61 136.20,156.74 135.93,156.65 135.80,156.39 135.75,155.65 135.84,155.37 136.10,155.25 136.37,155.34 136.50,155.59ZM136.75,159.34 136.66,159.61 136.40,159.74 136.13,159.64 136.00,159.39 135.95,158.64 136.04,158.37 136.30,158.24 136.57,158.33 136.70,158.59ZM136.95,162.33 136.86,162.60 136.60,162.73 136.33,162.64 136.20,162.38 136.15,161.63 136.25,161.36 136.50,161.23 136.77,161.32 136.90,161.58ZM137.15,165.32 137.06,165.59 136.80,165.72 136.53,165.63 136.40,165.37 136.35,164.62 136.45,164.35 136.70,164.23 136.98,164.32 137.10,164.57ZM137.35,168.32 137.26,168.59 137.00,168.72 136.73,168.62 136.60,168.37 136.55,167.62 136.65,167.35 136.90,167.22 137.18,167.31 137.30,167.57ZM137.55,171.31 137.46,171.58 137.20,171.71 136.93,171.62 136.80,171.36 136.75,170.61 136.85,170.34 137.10,170.21 137.37,170.30 137.50,170.56ZM137.75,174.30 137.66,174.57 137.40,174.70 137.13,174.61 137.00,174.35 136.95,173.60 137.04,173.33 137.30,173.21 137.57,173.30 137.70,173.55ZM137.95,177.30 137.86,177.57 137.60,177.70 137.33,177.60 137.20,177.35 137.15,176.60 137.24,176.33 137.50,176.20 137.77,176.29 137.90,176.55ZM138.14,180.29 138.05,180.56 137.80,180.69 137.52,180.60 137.40,180.34 137.35,179.59 137.44,179.32 137.70,179.19 137.97,179.28 138.10,179.54ZM138.34,183.28 138.25,183.56 137.99,183.68 137.72,183.59 137.59,183.33 137.54,182.58 137.64,182.31 137.89,182.19 138.17,182.28 138.29,182.54ZM138.54,186.28 138.45,186.55 138.19,186.68 137.92,186.58 137.79,186.33 137.74,185.58 137.83,185.31 138.09,185.18 138.36,185.27 138.49,185.53ZM138.73,189.27 138.64,189.54 138.38,189.67 138.11,189.58 137.99,189.32 137.94,188.57 138.03,188.30 138.29,188.17 138.56,188.27 138.69,188.52ZM138.93,192.26 138.84,192.54 138.58,192.66 138.31,192.57 138.18,192.31 138.13,191.57 138.23,191.29 138.48,191.17 138.75,191.26 138.88,191.52ZM139.13,195.26 139.03,195.53 138.78,195.66 138.50,195.56 138.38,195.31 138.33,194.56 138.42,194.29 138.68,194.16 138.95,194.25 139.08,194.51ZM139.32,198.25 139.23,198.52 138.97,198.65 138.70,198.56 138.57,198.30 138.52,197.55 138.62,197.28 138.87,197.15 139.15,197.25 139.27,197.50ZM139.52,201.25 139.43,201.52 139.17,201.64 138.90,201.55 138.77,201.29 138.72,200.55 138.81,200.27 139.07,200.15 139.34,200.24 139.47,200.50ZM139.71,204.24 139.62,204.51 139.36,204.64 139.09,204.55 138.97,204.29 138.92,203.54 139.01,203.27 139.27,203.14 139.54,203.23 139.66,203.49ZM139.91,207.23 139.82,207.50 139.56,207.63 139.29,207.54 139.16,207.28 139.11,206.53 139.21,206.26 139.46,206.13 139.73,206.23 139.86,206.48ZM140.11,210.23 140.01,210.50 139.76,210.62 139.49,210.53 139.36,210.28 139.31,209.53 139.40,209.25 139.66,209.13 139.93,209.22 140.06,209.48ZM140.30,213.22 140.21,213.49 139.95,213.62 139.68,213.53 139.56,213.27 139.51,212.52 139.60,212.25 139.86,212.12 140.13,212.21 140.25,212.47ZM140.50,216.21 140.41,216.48 140.15,216.61 139.88,216.52 139.75,216.26 139.70,215.51 139.80,215.24 140.05,215.11 140.32,215.21 140.45,215.46ZM140.70,219.21 140.61,219.48 140.35,219.61 140.08,219.51 139.95,219.26 139.90,218.51 139.99,218.24 140.25,218.11 140.52,218.20 140.65,218.46ZM140.90,222.20 140.81,222.47 140.55,222.60 140.28,222.51 140.15,222.25 140.10,221.50 140.19,221.23 140.45,221.10 140.72,221.19 140.85,221.45ZM141.10,225.19 141.01,225.46 140.75,225.59 140.48,225.50 140.35,225.24 140.30,224.49 140.39,224.22 140.65,224.10 140.92,224.19 141.05,224.44ZM141.30,228.19 141.21,228.46 140.95,228.59 140.68,228.49 140.55,228.24 140.50,227.49 140.59,227.22 140.85,227.09 141.12,227.18 141.25,227.44ZM141.50,231.18 141.41,231.45 141.15,231.58 140.88,231.49 140.75,231.23 140.70,230.48 140.79,230.21 141.05,230.08 141.32,230.17 141.45,230.43ZM141.70,234.17 141.61,234.44 141.35,234.57 141.08,234.48 140.95,234.22 140.90,233.47 140.99,233.20 141.25,233.08 141.52,233.17 141.65,233.42ZM141.90,237.17 141.81,237.44 141.56,237.56 141.28,237.47 141.16,237.22 141.10,236.47 141.20,236.20 141.45,236.07 141.73,236.16 141.85,236.42ZM142.11,240.16 142.02,240.43 141.76,240.56 141.49,240.47 141.36,240.21 141.31,239.46 141.40,239.19 141.66,239.06 141.93,239.15 142.06,239.41ZM142.31,243.15 142.22,243.42 141.96,243.55 141.69,243.46 141.56,243.20 141.51,242.45 141.60,242.18 141.86,242.05 142.13,242.15 142.26,242.40ZM142.52,246.14 142.43,246.42 142.17,246.54 141.90,246.45 141.77,246.20 141.72,245.45 141.81,245.18 142.07,245.05 142.34,245.14 142.47,245.40ZM142.73,249.14 142.64,249.41 142.38,249.54 142.11,249.45 141.98,249.19 141.93,248.44 142.02,248.17 142.28,248.04 142.55,248.13 142.68,248.39ZM142.94,252.13 142.85,252.40 142.59,252.53 142.32,252.44 142.19,252.18 142.14,251.43 142.23,251.16 142.48,251.03 142.76,251.12 142.88,251.38ZM143.15,255.12 143.06,255.39 142.80,255.52 142.53,255.43 142.40,255.17 142.35,254.43 142.44,254.15 142.69,254.03 142.97,254.12 143.10,254.37ZM143.36,258.11 143.27,258.39 143.01,258.51 142.74,258.42 142.61,258.17 142.56,257.42 142.65,257.15 142.91,257.02 143.18,257.11 143.31,257.37ZM143.57,261.11 143.48,261.38 143.23,261.51 142.96,261.42 142.83,261.16 142.77,260.41 142.86,260.14 143.12,260.01 143.39,260.10 143.52,260.36ZM143.79,264.10 143.70,264.37 143.44,264.50 143.17,264.41 143.04,264.15 142.99,263.40 143.08,263.13 143.34,263.00 143.61,263.09 143.74,263.35ZM144.01,267.09 143.92,267.36 143.66,267.49 143.39,267.40 143.26,267.14 143.21,266.40 143.30,266.12 143.55,265.99 143.83,266.08 143.95,266.34ZM144.23,270.08 144.14,270.35 143.88,270.48 143.61,270.39 143.48,270.14 143.43,269.39 143.52,269.12 143.77,268.99 144.04,269.08 144.17,269.33ZM144.45,273.07 144.36,273.35 144.10,273.47 143.83,273.38 143.70,273.13 143.65,272.38 143.74,272.11 143.99,271.98 144.27,272.07 144.39,272.32ZM144.67,276.06 144.58,276.34 144.33,276.47 144.06,276.38 143.93,276.12 143.87,275.37 143.96,275.10 144.22,274.97 144.49,275.06 144.62,275.32ZM144.90,279.06 144.81,279.33 144.55,279.46 144.28,279.37 144.15,279.11 144.10,278.36 144.18,278.09 144.44,277.96 144.71,278.05 144.84,278.31ZM145.13,282.05 145.04,282.32 144.78,282.45 144.51,282.36 144.38,282.10 144.32,281.36 144.41,281.08 144.67,280.95 144.94,281.04 145.07,281.30ZM145.36,285.04 145.27,285.31 145.01,285.44 144.74,285.35 144.61,285.09 144.55,284.35 144.64,284.07 144.90,283.94 145.17,284.03 145.30,284.29ZM145.59,288.03 145.50,288.30 145.25,288.43 144.97,288.34 144.84,288.09 144.79,287.34 144.87,287.07 145.13,286.94 145.40,287.02 145.53,287.28ZM145.83,291.02 145.74,291.29 145.48,291.42 145.21,291.33 145.08,291.08 145.02,290.33 145.11,290.06 145.36,289.93 145.64,290.01 145.77,290.27ZM146.07,294.01 145.98,294.28 145.72,294.41 145.45,294.32 145.32,294.07 145.26,293.32 145.35,293.05 145.60,292.92 145.88,293.01 146.01,293.26ZM146.31,297.00 146.22,297.27 145.96,297.40 145.69,297.31 145.56,297.06 145.50,296.31 145.59,296.04 145.84,295.91 146.11,296.00 146.25,296.25ZM146.55,299.99 146.46,300.26 146.21,300.39 145.93,300.30 145.80,300.05 145.74,299.30 145.83,299.03 146.08,298.90 146.36,298.99 146.49,299.24ZM146.80,302.98 146.71,303.25 146.45,303.38 146.18,303.29 146.05,303.04 145.99,302.29 146.07,302.02 146.33,301.89 146.60,301.97 146.73,302.23ZM147.05,305.97 146.96,306.24 146.70,306.37 146.43,306.28 146.30,306.03 146.24,305.28 146.32,305.01 146.58,304.88 146.85,304.96 146.98,305.22ZM147.30,308.96 147.21,309.23 146.96,309.36 146.68,309.27 146.55,309.02 146.49,308.27 146.57,308.00 146.83,307.87 147.10,307.95 147.23,308.21ZM147.55,311.94 147.47,312.22 147.21,312.35 146.94,312.26 146.81,312.01 146.74,311.26 146.83,310.99 147.08,310.86 147.36,310.94 147.49,311.20ZM147.81,314.93 147.72,315.21 147.47,315.34 147.20,315.25 147.06,315.00 147.00,314.25 147.09,313.98 147.34,313.84 147.61,313.93 147.75,314.19ZM148.07,317.92 147.99,318.19 147.73,318.33 147.46,318.24 147.33,317.99 147.26,317.24 147.35,316.97 147.60,316.83 147.87,316.92 148.01,317.17ZM148.34,320.91 148.25,321.18 148.00,321.32 147.72,321.23 147.59,320.98 147.52,320.23 147.61,319.95 147.86,319.82 148.14,319.91 148.27,320.16ZM148.61,323.90 148.52,324.17 148.27,324.30 147.99,324.22 147.86,323.96 147.79,323.22 147.88,322.94 148.13,322.81 148.41,322.90 148.54,323.15ZM148.88,326.88 148.79,327.16 148.54,327.29 148.26,327.21 148.13,326.95 148.06,326.21 148.15,325.93 148.40,325.80 148.68,325.88 148.81,326.14ZM149.15,329.87 149.07,330.14 148.81,330.28 148.54,330.19 148.41,329.94 148.34,329.19 148.42,328.92 148.68,328.79 148.95,328.87 149.08,329.12ZM149.43,332.86 149.35,333.13 149.09,333.27 148.82,333.18 148.69,332.93 148.62,332.18 148.70,331.91 148.95,331.77 149.23,331.86 149.36,332.11ZM149.71,335.84 149.63,336.12 149.38,336.25 149.10,336.17 148.97,335.91 148.90,335.17 148.98,334.89 149.23,334.76 149.51,334.84 149.64,335.10ZM150.00,338.83 149.92,339.10 149.66,339.24 149.39,339.15 149.25,338.90 149.18,338.15 149.27,337.88 149.52,337.75 149.79,337.83 149.93,338.08ZM150.29,341.81 150.21,342.09 149.95,342.22 149.68,342.14 149.55,341.89 149.47,341.14 149.56,340.87 149.81,340.73 150.08,340.81 150.22,341.07ZM150.59,344.80 150.50,345.07 150.25,345.21 149.97,345.13 149.84,344.87 149.77,344.13 149.85,343.85 150.10,343.72 150.38,343.80 150.51,344.05ZM150.88,347.78 150.80,348.06 150.55,348.19 150.27,348.11 150.14,347.86 150.06,347.11 150.15,346.84 150.40,346.70 150.67,346.79 150.81,347.04ZM151.19,350.77 151.10,351.04 150.85,351.18 150.58,351.10 150.44,350.84 150.36,350.10 150.45,349.82 150.70,349.69 150.97,349.77 151.11,350.02ZM151.49,353.75 151.41,354.03 151.16,354.16 150.88,354.08 150.75,353.83 150.67,353.08 150.75,352.81 151.00,352.67 151.28,352.75 151.42,353.01ZM151.80,356.74 151.72,357.01 151.47,357.15 151.20,357.07 151.06,356.81 150.98,356.07 151.06,355.79 151.31,355.66 151.59,355.74 151.73,355.99ZM152.12,359.72 152.04,359.99 151.79,360.13 151.51,360.05 151.37,359.80 151.29,359.05 151.38,358.78 151.63,358.64 151.90,358.72 152.04,358.97ZM152.44,362.70 152.36,362.98 152.11,363.11 151.83,363.03 151.69,362.78 151.61,362.04 151.69,361.76 151.95,361.62 152.22,361.70 152.36,361.95ZM152.76,365.68 152.68,365.96 152.43,366.10 152.16,366.02 152.02,365.76 151.94,365.02 152.02,364.74 152.27,364.60 152.54,364.69 152.68,364.94ZM153.09,368.66 153.01,368.94 152.76,369.08 152.49,369.00 152.35,368.75 152.26,368.00 152.34,367.73 152.60,367.59 152.87,367.67 153.01,367.92ZM153.43,371.64 153.35,371.92 153.10,372.06 152.82,371.98 152.68,371.73 152.60,370.98 152.68,370.71 152.93,370.57 153.20,370.65 153.34,370.90ZM153.76,374.62 153.69,374.90 153.43,375.04 153.16,374.96 153.02,374.71 152.93,373.96 153.01,373.69 153.26,373.55 153.54,373.63 153.68,373.88ZM154.11,377.60 154.03,377.88 153.78,378.02 153.50,377.94 153.36,377.69 153.28,376.95 153.35,376.67 153.61,376.53 153.88,376.61 154.02,376.86ZM154.46,380.58 154.38,380.86 154.13,381.00 153.85,380.92 153.71,380.67 153.62,379.93 153.70,379.65 153.95,379.51 154.23,379.59 154.37,379.84ZM154.81,383.56 154.73,383.84 154.48,383.98 154.20,383.90 154.06,383.65 153.98,382.91 154.05,382.63 154.30,382.49 154.58,382.57 154.72,382.82ZM155.17,386.54 155.09,386.82 154.84,386.96 154.56,386.88 154.42,386.63 154.33,385.89 154.41,385.61 154.66,385.47 154.94,385.55 155.08,385.80ZM155.53,389.52 155.45,389.79 155.20,389.94 154.93,389.86 154.79,389.61 154.69,388.86 154.77,388.59 155.02,388.45 155.30,388.52 155.44,388.77ZM155.90,392.49 155.82,392.77 155.57,392.91 155.30,392.84 155.15,392.59 155.06,391.84 155.14,391.57 155.39,391.42 155.66,391.50 155.81,391.75ZM156.27,395.47 156.20,395.75 155.95,395.89 155.67,395.81 155.53,395.56 155.44,394.82 155.51,394.54 155.76,394.40 156.04,394.48 156.18,394.73ZM156.65,398.45 156.58,398.72 156.33,398.86 156.05,398.79 155.91,398.54 155.81,397.80 155.89,397.52 156.14,397.38 156.41,397.45 156.56,397.70ZM157.04,401.42 156.96,401.70 156.71,401.84 156.44,401.77 156.29,401.52 156.20,400.77 156.27,400.50 156.52,400.35 156.80,400.43 156.94,400.68ZM157.43,404.39 157.35,404.67 157.11,404.81 156.83,404.74 156.68,404.49 156.59,403.75 156.66,403.47 156.91,403.33 157.19,403.40 157.33,403.65ZM157.82,407.37 157.75,407.64 157.50,407.79 157.22,407.71 157.08,407.47 156.98,406.72 157.05,406.45 157.30,406.30 157.58,406.37 157.72,406.62ZM158.23,410.34 158.15,410.62 157.91,410.76 157.63,410.69 157.48,410.44 157.38,409.70 157.46,409.42 157.70,409.27 157.98,409.35 158.13,409.60ZM158.63,413.31 158.56,413.59 158.31,413.73 158.04,413.66 157.89,413.41 157.79,412.67 157.86,412.39 158.11,412.25 158.39,412.32 158.53,412.57ZM159.05,416.28 158.98,416.56 158.73,416.70 158.45,416.63 158.30,416.38 158.20,415.64 158.27,415.36 158.52,415.22 158.80,415.29 158.94,415.54ZM159.47,419.25 159.40,419.53 159.15,419.67 158.87,419.60 158.72,419.36 158.62,418.61 158.69,418.34 158.94,418.19 159.22,418.26 159.36,418.51ZM159.89,422.22 159.82,422.50 159.57,422.64 159.30,422.57 159.15,422.33 159.04,421.58 159.11,421.31 159.36,421.16 159.64,421.23 159.79,421.48ZM160.32,425.19 160.25,425.47 160.01,425.61 159.73,425.54 159.58,425.30 159.47,424.55 159.54,424.28 159.79,424.13 160.07,424.20 160.22,424.45ZM160.76,428.15 160.69,428.43 160.45,428.58 160.17,428.51 160.02,428.26 159.91,427.52 159.98,427.24 160.23,427.10 160.50,427.17 160.65,427.41ZM161.21,431.12 161.14,431.40 160.89,431.55 160.61,431.48 160.46,431.23 160.35,430.49 160.42,430.21 160.67,430.06 160.95,430.13 161.09,430.38ZM161.66,434.09 161.59,434.36 161.34,434.51 161.06,434.44 160.92,434.20 160.80,433.46 160.87,433.18 161.12,433.03 161.40,433.10 161.54,433.34ZM162.11,437.05 162.05,437.33 161.80,437.48 161.52,437.41 161.37,437.16 161.26,436.42 161.33,436.14 161.57,436.00 161.85,436.06 162.00,436.31ZM162.58,440.01 162.51,440.29 162.27,440.44 161.99,440.37 161.84,440.13 161.72,439.39 161.79,439.11 162.03,438.96 162.31,439.03 162.46,439.27ZM163.05,442.97 162.98,443.25 162.74,443.40 162.46,443.34 162.31,443.09 162.19,442.35 162.26,442.07 162.50,441.92 162.78,441.99 162.93,442.23ZM163.53,445.94 163.46,446.22 163.21,446.37 162.94,446.30 162.78,446.06 162.66,445.32 162.73,445.04 162.98,444.89 163.25,444.95 163.41,445.20ZM164.01,448.90 163.94,449.18 163.70,449.33 163.42,449.26 163.27,449.02 163.15,448.28 163.21,448.00 163.46,447.85 163.74,447.91 163.89,448.16ZM164.50,451.85 164.43,452.13 164.19,452.29 163.91,452.22 163.76,451.98 163.64,451.24 163.70,450.96 163.94,450.81 164.22,450.87 164.38,451.11ZM165.00,454.81 164.93,455.09 164.69,455.24 164.41,455.18 164.26,454.94 164.13,454.20 164.20,453.92 164.44,453.77 164.72,453.83 164.87,454.07ZM165.50,457.77 165.44,458.05 165.19,458.20 164.91,458.14 164.76,457.90 164.64,457.16 164.70,456.88 164.94,456.72 165.22,456.79 165.37,457.03ZM166.01,460.72 165.95,461.00 165.71,461.16 165.43,461.09 165.27,460.85 165.14,460.11 165.21,459.83 165.45,459.68 165.73,459.74 165.88,459.98ZM166.53,463.68 166.47,463.96 166.23,464.11 165.95,464.05 165.79,463.81 165.66,463.07 165.72,462.79 165.97,462.63 166.25,462.70 166.40,462.94ZM167.06,466.63 167.00,466.91 166.75,467.07 166.47,467.00 166.32,466.76 166.19,466.02 166.25,465.74 166.49,465.59 166.77,465.65 166.92,465.89ZM167.59,469.58 167.53,469.86 167.29,470.02 167.01,469.96 166.85,469.72 166.72,468.98 166.78,468.70 167.02,468.54 167.30,468.60 167.46,468.84ZM168.13,472.53 168.07,472.81 167.83,472.97 167.55,472.91 167.39,472.67 167.26,471.93 167.32,471.65 167.56,471.49 167.84,471.55 167.99,471.79ZM168.68,475.48 168.62,475.76 168.38,475.92 168.10,475.86 167.94,475.62 167.80,474.88 167.86,474.60 168.10,474.44 168.38,474.50 168.54,474.74ZM169.23,478.43 169.18,478.71 168.94,478.87 168.65,478.81 168.50,478.57 168.36,477.83 168.42,477.55 168.66,477.39 168.94,477.45 169.09,477.69ZM169.80,481.37 169.74,481.65 169.50,481.81 169.22,481.75 169.06,481.51 168.92,480.78 168.98,480.50 169.22,480.34 169.50,480.40 169.66,480.64ZM170.37,484.32 170.31,484.60 170.07,484.76 169.79,484.70 169.63,484.46 169.49,483.72 169.55,483.44 169.78,483.28 170.07,483.34 170.22,483.58ZM170.95,487.26 170.89,487.54 170.65,487.70 170.37,487.64 170.21,487.41 170.06,486.67 170.12,486.39 170.36,486.23 170.64,486.29 170.80,486.52ZM171.53,490.20 171.48,490.48 171.24,490.64 170.96,490.59 170.80,490.35 170.65,489.61 170.71,489.33 170.94,489.17 171.23,489.23 171.38,489.47ZM172.13,493.14 172.07,493.42 171.83,493.58 171.55,493.53 171.39,493.29 171.24,492.55 171.30,492.27 171.53,492.11 171.82,492.17 171.98,492.41ZM172.73,496.08 172.67,496.36 172.44,496.52 172.15,496.47 171.99,496.23 171.84,495.50 171.90,495.21 172.13,495.05 172.42,495.11 172.58,495.34ZM173.34,499.01 173.29,499.30 173.05,499.46 172.77,499.40 172.60,499.17 172.45,498.43 172.50,498.15 172.74,497.99 173.02,498.04 173.19,498.28ZM173.96,501.95 173.90,502.23 173.67,502.39 173.39,502.34 173.22,502.10 173.07,501.37 173.12,501.09 173.36,500.93 173.64,500.98 173.80,501.22ZM174.58,504.88 174.53,505.16 174.30,505.33 174.01,505.28 173.85,505.04 173.69,504.31 173.74,504.02 173.98,503.86 174.26,503.91 174.43,504.15ZM175.22,507.81 175.17,508.10 174.93,508.26 174.65,508.21 174.48,507.97 174.33,507.24 174.38,506.96 174.61,506.79 174.89,506.84 175.06,507.08ZM175.86,510.74 175.81,511.02 175.58,511.19 175.29,511.14 175.13,510.90 174.97,510.17 175.02,509.89 175.25,509.72 175.53,509.77 175.70,510.01ZM176.51,513.67 176.46,513.95 176.23,514.12 175.94,514.07 175.78,513.83 175.62,513.10 175.67,512.82 175.90,512.65 176.18,512.70 176.35,512.94ZM177.17,516.59 177.12,516.88 176.89,517.04 176.61,517.00 176.44,516.76 176.27,516.03 176.32,515.75 176.56,515.58 176.84,515.63 177.01,515.86ZM177.84,519.52 177.79,519.80 177.56,519.97 177.28,519.92 177.11,519.69 176.94,518.96 176.99,518.67 177.22,518.51 177.51,518.55 177.67,518.79ZM178.52,522.44 178.47,522.72 178.24,522.89 177.95,522.84 177.79,522.61 177.62,521.88 177.66,521.60 177.90,521.43 178.18,521.48 178.35,521.71ZM179.20,525.36 179.16,525.64 178.92,525.81 178.64,525.76 178.47,525.53 178.30,524.80 178.35,524.52 178.58,524.35 178.86,524.40 179.03,524.63ZM179.90,528.28 179.85,528.56 179.62,528.73 179.34,528.68 179.17,528.45 178.99,527.72 179.04,527.44 179.27,527.27 179.55,527.32 179.72,527.55ZM180.60,531.19 180.55,531.48 180.32,531.65 180.04,531.60 179.87,531.37 179.69,530.64 179.74,530.36 179.97,530.19 180.25,530.23 180.42,530.46ZM181.31,534.11 181.27,534.39 181.04,534.56 180.75,534.52 180.58,534.28 180.40,533.56 180.45,533.27 180.68,533.10 180.96,533.15 181.13,533.38ZM182.03,537.02 181.99,537.30 181.76,537.47 181.48,537.43 181.30,537.20 181.12,536.47 181.17,536.19 181.40,536.02 181.68,536.06 181.85,536.29ZM182.76,539.92 182.72,540.21 182.49,540.38 182.21,540.34 182.04,540.11 181.85,539.38 181.89,539.10 182.12,538.93 182.41,538.97 182.58,539.20ZM183.50,542.83 183.46,543.11 183.23,543.29 182.95,543.25 182.78,543.02 182.59,542.29 182.63,542.01 182.86,541.83 183.15,541.87 183.32,542.10ZM184.25,545.73 184.22,546.02 183.99,546.19 183.70,546.15 183.53,545.92 183.34,545.20 183.38,544.91 183.61,544.74 183.89,544.78 184.07,545.01ZM185.02,548.63 184.98,548.92 184.75,549.09 184.46,549.05 184.29,548.83 184.10,548.10 184.14,547.82 184.37,547.64 184.65,547.68 184.82,547.91ZM185.79,551.53 185.75,551.82 185.52,551.99 185.24,551.95 185.06,551.73 184.87,551.00 184.91,550.72 185.13,550.54 185.42,550.58 185.59,550.81ZM186.57,554.43 186.53,554.71 186.31,554.89 186.02,554.85 185.85,554.62 185.65,553.90 185.69,553.61 185.91,553.44 186.20,553.48 186.37,553.70ZM187.36,557.32 187.33,557.60 187.10,557.78 186.82,557.74 186.64,557.52 186.44,556.79 186.48,556.51 186.70,556.33 186.99,556.37 187.16,556.59ZM188.17,560.21 188.13,560.49 187.91,560.67 187.62,560.63 187.45,560.41 187.24,559.69 187.28,559.40 187.50,559.22 187.79,559.26 187.97,559.48ZM188.98,563.09 188.95,563.38 188.73,563.55 188.44,563.52 188.26,563.30 188.06,562.58 188.09,562.29 188.32,562.11 188.60,562.15 188.78,562.37ZM189.81,565.97 189.78,566.26 189.56,566.44 189.27,566.41 189.09,566.18 188.88,565.46 188.92,565.18 189.14,565.00 189.42,565.03 189.60,565.25ZM190.65,568.85 190.62,569.14 190.40,569.32 190.11,569.29 189.93,569.06 189.72,568.34 189.75,568.06 189.98,567.88 190.26,567.91 190.44,568.13ZM191.51,571.73 191.48,572.01 191.25,572.19 190.97,572.16 190.79,571.94 190.57,571.22 190.60,570.94 190.82,570.76 191.11,570.78 191.29,571.01ZM192.37,574.60 192.34,574.88 192.12,575.06 191.83,575.04 191.65,574.81 191.44,574.10 191.46,573.81 191.69,573.63 191.97,573.66 192.15,573.88ZM193.25,577.46 193.22,577.75 193.00,577.93 192.71,577.91 192.53,577.68 192.31,576.97 192.34,576.68 192.56,576.50 192.84,576.53 193.03,576.75ZM194.14,580.33 194.11,580.61 193.89,580.80 193.61,580.77 193.42,580.55 193.20,579.84 193.23,579.55 193.45,579.37 193.73,579.39 193.92,579.61ZM195.04,583.19 195.02,583.47 194.80,583.66 194.51,583.63 194.33,583.41 194.10,582.70 194.13,582.41 194.35,582.23 194.63,582.25 194.82,582.47ZM195.96,586.04 195.94,586.33 195.72,586.51 195.43,586.49 195.25,586.27 195.02,585.56 195.04,585.27 195.26,585.08 195.54,585.11 195.73,585.33ZM196.89,588.89 196.87,589.18 196.65,589.36 196.37,589.34 196.18,589.12 195.95,588.41 195.97,588.12 196.19,587.94 196.47,587.96 196.66,588.18ZM197.84,591.73 197.82,592.02 197.60,592.21 197.32,592.19 197.13,591.97 196.89,591.26 196.91,590.97 197.13,590.79 197.41,590.81 197.60,591.02ZM198.80,594.57 198.78,594.86 198.57,595.05 198.28,595.03 198.09,594.82 197.85,594.11 197.87,593.82 198.08,593.63 198.37,593.65 198.56,593.86ZM199.78,597.41 199.76,597.70 199.54,597.89 199.26,597.87 199.07,597.65 198.82,596.95 198.84,596.66 199.05,596.47 199.34,596.49 199.53,596.70ZM200.77,600.24 200.75,600.53 200.54,600.72 200.25,600.70 200.06,600.49 199.81,599.78 199.82,599.49 200.04,599.30 200.32,599.32 200.52,599.53ZM201.77,603.06 201.76,603.35 201.54,603.54 201.26,603.53 201.06,603.32 200.81,602.61 200.83,602.32 201.04,602.13 201.32,602.15 201.52,602.36ZM202.79,605.88 202.78,606.17 202.57,606.36 202.28,606.35 202.09,606.14 201.83,605.43 201.84,605.15 202.05,604.95 202.34,604.97 202.53,605.18ZM203.83,608.70 203.82,608.98 203.60,609.18 203.32,609.17 203.12,608.96 202.86,608.25 202.87,607.97 203.08,607.77 203.37,607.78 203.57,607.99ZM204.88,611.50 204.87,611.79 204.66,611.99 204.37,611.98 204.18,611.77 203.91,611.07 203.92,610.78 204.13,610.58 204.42,610.59 204.61,610.80ZM205.95,614.30 205.94,614.59 205.73,614.79 205.44,614.78 205.25,614.57 204.98,613.87 204.98,613.59 205.19,613.39 205.48,613.40 205.68,613.60ZM207.03,617.10 207.02,617.39 206.82,617.59 206.53,617.58 206.33,617.37 206.06,616.67 206.06,616.39 206.27,616.19 206.56,616.19 206.76,616.40ZM208.13,619.89 208.13,620.17 207.92,620.37 207.63,620.37 207.43,620.16 207.16,619.47 207.16,619.18 207.37,618.98 207.65,618.98 207.85,619.19ZM209.25,622.67 209.25,622.96 209.04,623.16 208.75,623.16 208.55,622.95 208.27,622.26 208.27,621.97 208.48,621.77 208.77,621.77 208.97,621.97ZM210.38,625.44 210.38,625.73 210.18,625.93 209.89,625.93 209.69,625.73 209.40,625.04 209.40,624.75 209.61,624.55 209.89,624.55 210.10,624.75ZM211.53,628.21 211.54,628.50 211.33,628.70 211.05,628.70 210.84,628.50 210.55,627.81 210.55,627.52 210.75,627.32 211.04,627.32 211.24,627.52ZM212.70,630.97 212.71,631.26 212.51,631.46 212.22,631.47 212.01,631.27 211.72,630.58 211.72,630.29 211.92,630.08 212.20,630.08 212.41,630.28ZM213.89,633.72 213.90,634.01 213.70,634.22 213.41,634.22 213.20,634.02 212.90,633.33 212.90,633.05 213.10,632.84 213.39,632.84 213.59,633.04ZM215.10,636.47 215.10,636.76 214.90,636.96 214.62,636.97 214.41,636.77 214.11,636.09 214.10,635.80 214.30,635.59 214.59,635.58 214.79,635.78ZM216.32,639.21 216.33,639.49 216.13,639.70 215.84,639.71 215.64,639.51 215.33,638.83 215.32,638.54 215.52,638.33 215.80,638.32 216.01,638.52ZM217.56,641.93 217.57,642.22 217.38,642.43 217.09,642.44 216.88,642.25 216.57,641.56 216.56,641.28 216.75,641.07 217.04,641.06 217.25,641.25ZM218.82,644.65 218.83,644.94 218.64,645.15 218.35,645.16 218.14,644.97 217.82,644.29 217.81,644.00 218.01,643.79 218.29,643.78 218.50,643.97ZM220.10,647.36 220.11,647.65 219.92,647.86 219.64,647.88 219.42,647.69 219.10,647.01 219.09,646.72 219.28,646.51 219.57,646.49 219.78,646.69ZM221.40,650.07 221.41,650.35 221.22,650.57 220.94,650.58 220.72,650.39 220.40,649.72 220.38,649.43 220.57,649.22 220.86,649.20 221.07,649.39ZM222.72,652.76 222.73,653.04 222.54,653.26 222.26,653.28 222.04,653.09 221.71,652.42 221.69,652.13 221.88,651.91 222.17,651.90 222.38,652.09ZM224.05,655.44 224.07,655.73 223.88,655.94 223.60,655.96 223.38,655.78 223.05,655.11 223.02,654.82 223.21,654.60 223.50,654.58 223.72,654.77ZM225.41,658.11 225.43,658.40 225.25,658.62 224.96,658.64 224.74,658.45 224.40,657.79 224.38,657.50 224.56,657.28 224.85,657.26 225.07,657.45ZM226.78,660.78 226.81,661.06 226.62,661.28 226.34,661.31 226.12,661.12 225.77,660.46 225.75,660.17 225.93,659.95 226.22,659.93 226.44,660.11ZM228.18,663.43 228.21,663.71 228.02,663.94 227.74,663.96 227.52,663.78 227.17,663.12 227.14,662.83 227.32,662.61 227.61,662.58 227.83,662.77ZM229.60,666.07 229.63,666.36 229.44,666.58 229.16,666.61 228.94,666.43 228.58,665.77 228.55,665.48 228.73,665.26 229.02,665.23 229.24,665.41ZM231.03,668.70 231.06,668.99 230.88,669.21 230.60,669.24 230.37,669.06 230.01,668.40 229.98,668.12 230.16,667.90 230.45,667.86 230.67,668.04ZM232.49,671.32 232.52,671.61 232.34,671.83 232.06,671.86 231.83,671.69 231.47,671.03 231.43,670.75 231.61,670.52 231.90,670.49 232.12,670.67ZM233.96,673.93 234.00,674.21 233.82,674.44 233.54,674.48 233.31,674.30 232.94,673.65 232.91,673.36 233.08,673.14 233.37,673.10 233.59,673.28ZM235.46,676.53 235.50,676.81 235.32,677.04 235.04,677.08 234.81,676.90 234.43,676.25 234.40,675.97 234.57,675.74 234.86,675.70 235.08,675.88ZM236.97,679.11 237.01,679.40 236.84,679.63 236.56,679.67 236.33,679.49 235.95,678.85 235.91,678.56 236.08,678.33 236.36,678.29 236.59,678.47ZM238.51,681.69 238.55,681.97 238.38,682.20 238.10,682.24 237.87,682.07 237.48,681.43 237.44,681.15 237.61,680.91 237.89,680.87 238.12,681.04ZM240.07,684.25 240.11,684.53 239.94,684.76 239.66,684.81 239.43,684.64 239.03,684.00 238.99,683.72 239.16,683.48 239.44,683.44 239.67,683.61ZM241.64,686.80 241.69,687.08 241.52,687.31 241.24,687.36 241.00,687.19 240.61,686.56 240.56,686.27 240.73,686.04 241.01,685.99 241.24,686.16ZM243.23,689.34 243.28,689.62 243.12,689.85 242.84,689.90 242.60,689.74 242.20,689.10 242.15,688.82 242.32,688.59 242.60,688.54 242.83,688.70ZM244.85,691.86 244.90,692.14 244.74,692.38 244.45,692.43 244.22,692.27 243.81,691.64 243.76,691.35 243.92,691.12 244.21,691.07 244.44,691.23ZM246.48,694.37 246.54,694.66 246.37,694.89 246.09,694.95 245.86,694.78 245.45,694.16 245.39,693.87 245.55,693.64 245.84,693.58 246.07,693.75ZM248.14,696.87 248.19,697.15 248.03,697.39 247.75,697.45 247.51,697.29 247.10,696.66 247.04,696.38 247.20,696.14 247.48,696.09 247.72,696.25ZM249.81,699.36 249.87,699.64 249.71,699.88 249.43,699.94 249.19,699.78 248.77,699.16 248.71,698.88 248.87,698.64 249.15,698.58 249.39,698.74ZM251.50,701.83 251.56,702.11 251.41,702.35 251.13,702.41 250.89,702.26 250.46,701.64 250.40,701.36 250.56,701.12 250.84,701.06 251.08,701.21ZM253.22,704.29 253.28,704.57 253.13,704.81 252.85,704.88 252.60,704.72 252.17,704.11 252.11,703.83 252.26,703.58 252.54,703.52 252.79,703.68ZM254.95,706.74 255.01,707.02 254.86,707.26 254.58,707.32 254.34,707.17 253.90,706.56 253.84,706.28 253.99,706.04 254.27,705.97 254.51,706.13ZM256.70,709.17 256.77,709.45 256.62,709.69 256.34,709.76 256.10,709.61 255.66,709.00 255.59,708.72 255.74,708.48 256.02,708.41 256.26,708.56ZM258.48,711.58 258.54,711.86 258.40,712.11 258.12,712.18 257.87,712.03 257.43,711.43 257.36,711.15 257.51,710.90 257.78,710.83 258.03,710.98ZM260.27,713.99 260.34,714.26 260.19,714.51 259.91,714.58 259.67,714.44 259.22,713.84 259.15,713.56 259.29,713.31 259.57,713.24 259.82,713.39ZM262.08,716.37 262.15,716.65 262.01,716.90 261.73,716.97 261.48,716.83 261.03,716.23 260.95,715.96 261.10,715.71 261.37,715.63 261.62,715.78ZM263.91,718.75 263.99,719.02 263.84,719.27 263.57,719.35 263.32,719.21 262.86,718.61 262.78,718.34 262.92,718.09 263.20,718.01 263.45,718.15ZM265.76,721.10 265.84,721.38 265.70,721.63 265.42,721.71 265.17,721.57 264.71,720.98 264.63,720.70 264.77,720.45 265.04,720.37 265.30,720.51ZM267.63,723.44 267.71,723.72 267.57,723.97 267.30,724.05 267.05,723.91 266.58,723.33 266.50,723.05 266.63,722.80 266.91,722.72 267.16,722.86ZM269.52,725.77 269.60,726.05 269.47,726.30 269.19,726.38 268.94,726.25 268.46,725.67 268.38,725.39 268.52,725.14 268.79,725.05 269.05,725.19ZM271.43,728.08 271.51,728.35 271.38,728.61 271.11,728.69 270.85,728.56 270.37,727.98 270.29,727.71 270.42,727.46 270.70,727.37 270.95,727.50ZM273.36,730.37 273.45,730.65 273.31,730.90 273.04,730.99 272.79,730.86 272.30,730.29 272.21,730.01 272.35,729.76 272.62,729.67 272.87,729.80ZM275.31,732.65 275.40,732.92 275.27,733.18 274.99,733.27 274.74,733.14 274.25,732.57 274.16,732.30 274.29,732.04 274.56,731.95 274.82,732.08ZM277.27,734.91 277.37,735.18 277.24,735.44 276.97,735.53 276.71,735.41 276.22,734.84 276.12,734.57 276.25,734.31 276.52,734.22 276.78,734.35ZM279.26,737.15 279.36,737.43 279.23,737.68 278.96,737.78 278.70,737.65 278.20,737.09 278.11,736.82 278.23,736.56 278.50,736.47 278.76,736.59ZM281.27,739.38 281.37,739.65 281.24,739.91 280.97,740.01 280.71,739.88 280.21,739.33 280.11,739.06 280.23,738.80 280.50,738.70 280.76,738.82ZM283.29,741.59 283.39,741.86 283.27,742.12 283.00,742.22 282.74,742.10 282.23,741.55 282.14,741.28 282.26,741.02 282.52,740.92 282.79,741.04ZM285.34,743.78 285.44,744.05 285.32,744.31 285.05,744.41 284.79,744.29 284.28,743.75 284.18,743.48 284.30,743.22 284.56,743.11 284.83,743.23ZM287.40,745.95 287.51,746.22 287.39,746.48 287.12,746.58 286.86,746.47 286.34,745.93 286.24,745.66 286.36,745.40 286.62,745.29 286.89,745.41ZM289.49,748.10 289.59,748.37 289.48,748.63 289.21,748.74 288.95,748.63 288.43,748.09 288.32,747.82 288.43,747.56 288.70,747.45 288.96,747.57ZM291.59,750.24 291.70,750.50 291.59,750.77 291.32,750.88 291.06,750.77 290.53,750.23 290.42,749.97 290.53,749.70 290.80,749.60 291.06,749.71ZM293.71,752.35 293.82,752.62 293.72,752.88 293.45,753.00 293.19,752.89 292.65,752.36 292.54,752.10 292.65,751.83 292.91,751.72 293.18,751.83ZM295.85,754.45 295.97,754.71 295.86,754.98 295.60,755.09 295.33,754.99 294.79,754.47 294.68,754.20 294.79,753.94 295.05,753.82 295.32,753.93ZM298.01,756.53 298.13,756.79 298.03,757.06 297.76,757.17 297.50,757.07 296.95,756.55 296.84,756.29 296.94,756.02 297.20,755.91 297.47,756.01ZM300.19,758.58 300.31,758.85 300.21,759.11 299.95,759.23 299.68,759.13 299.13,758.62 299.02,758.36 299.12,758.09 299.38,757.97 299.65,758.07ZM302.39,760.62 302.51,760.88 302.41,761.15 302.15,761.27 301.88,761.17 301.33,760.67 301.21,760.40 301.31,760.14 301.57,760.01 301.84,760.11ZM304.61,762.64 304.73,762.90 304.64,763.17 304.38,763.29 304.11,763.19 303.55,762.69 303.43,762.43 303.52,762.16 303.78,762.04 304.05,762.13ZM306.84,764.63 306.97,764.89 306.88,765.16 306.62,765.29 306.35,765.19 305.79,764.70 305.66,764.44 305.75,764.17 306.01,764.04 306.28,764.13ZM309.10,766.61 309.23,766.86 309.14,767.14 308.88,767.26 308.61,767.17 308.04,766.68 307.91,766.42 308.00,766.15 308.26,766.02 308.53,766.11ZM311.37,768.56 311.50,768.81 311.41,769.09 311.16,769.22 310.88,769.13 310.31,768.64 310.18,768.39 310.27,768.11 310.53,767.98 310.80,768.07ZM313.66,770.49 313.80,770.74 313.71,771.02 313.45,771.15 313.18,771.07 312.61,770.58 312.47,770.33 312.56,770.06 312.81,769.92 313.09,770.01ZM315.97,772.40 316.11,772.65 316.02,772.93 315.77,773.06 315.49,772.98 314.92,772.50 314.78,772.25 314.86,771.98 315.12,771.84 315.39,771.92ZM318.30,774.29 318.43,774.54 318.35,774.82 318.10,774.95 317.83,774.87 317.24,774.40 317.11,774.15 317.19,773.88 317.44,773.74 317.71,773.82ZM320.64,776.16 320.78,776.41 320.70,776.68 320.45,776.82 320.17,776.75 319.59,776.28 319.45,776.03 319.53,775.75 319.78,775.61 320.05,775.69ZM323.00,778.00 323.14,778.25 323.07,778.53 322.82,778.67 322.54,778.60 321.95,778.14 321.81,777.89 321.88,777.61 322.13,777.47 322.41,777.54ZM325.38,779.83 325.52,780.08 325.45,780.36 325.20,780.50 324.92,780.43 324.32,779.97 324.18,779.72 324.25,779.45 324.50,779.30 324.78,779.38ZM327.77,781.64 327.91,781.88 327.84,782.16 327.60,782.31 327.32,782.24 326.72,781.79 326.57,781.54 326.64,781.26 326.89,781.12 327.17,781.19ZM330.18,783.42 330.32,783.67 330.25,783.95 330.01,784.09 329.73,784.03 329.13,783.58 328.98,783.33 329.05,783.06 329.29,782.91 329.57,782.98ZM332.60,785.19 332.75,785.43 332.68,785.71 332.44,785.86 332.16,785.79 331.55,785.35 331.40,785.11 331.47,784.83 331.71,784.68 331.99,784.75ZM335.03,786.93 335.19,787.17 335.12,787.45 334.88,787.61 334.60,787.54 333.99,787.11 333.84,786.86 333.90,786.58 334.14,786.43 334.42,786.50ZM337.49,788.65 337.64,788.90 337.58,789.18 337.34,789.33 337.06,789.27 336.44,788.84 336.29,788.60 336.35,788.32 336.59,788.16 336.87,788.22ZM339.95,790.36 340.11,790.60 340.05,790.88 339.81,791.04 339.53,790.98 338.91,790.55 338.75,790.31 338.81,790.03 339.05,789.87 339.33,789.93ZM342.43,792.04 342.59,792.28 342.53,792.56 342.29,792.72 342.01,792.66 341.39,792.24 341.23,792.00 341.29,791.72 341.53,791.56 341.81,791.62ZM344.92,793.71 345.08,793.94 345.03,794.22 344.79,794.39 344.51,794.33 343.88,793.92 343.72,793.68 343.78,793.40 344.02,793.24 344.30,793.29ZM347.43,795.35 347.59,795.59 347.54,795.87 347.30,796.03 347.02,795.98 346.39,795.57 346.23,795.33 346.28,795.05 346.52,794.89 346.80,794.94ZM349.95,796.97 350.11,797.21 350.06,797.49 349.82,797.66 349.54,797.61 348.91,797.20 348.75,796.97 348.80,796.68 349.03,796.52 349.32,796.57ZM352.48,798.58 352.64,798.82 352.60,799.10 352.36,799.26 352.08,799.22 351.44,798.82 351.28,798.58 351.33,798.30 351.56,798.13 351.84,798.18ZM355.02,800.17 355.19,800.40 355.14,800.68 354.91,800.85 354.63,800.81 353.99,800.41 353.82,800.18 353.87,799.89 354.10,799.73 354.38,799.77ZM357.57,801.74 357.74,801.97 357.70,802.25 357.47,802.42 357.18,802.38 356.54,801.99 356.37,801.75 356.42,801.47 356.65,801.30 356.93,801.35ZM360.14,803.29 360.31,803.52 360.27,803.80 360.04,803.97 359.75,803.93 359.11,803.54 358.94,803.31 358.98,803.03 359.21,802.86 359.50,802.90ZM362.72,804.82 362.89,805.05 362.85,805.33 362.62,805.50 362.34,805.46 361.69,805.08 361.52,804.85 361.56,804.57 361.79,804.39 362.07,804.43ZM365.31,806.33 365.48,806.56 365.44,806.84 365.21,807.02 364.93,806.98 364.28,806.60 364.11,806.37 364.14,806.09 364.37,805.91 364.66,805.95ZM367.90,807.82 368.08,808.05 368.04,808.33 367.82,808.51 367.53,808.47 366.88,808.10 366.70,807.87 366.74,807.59 366.97,807.41 367.25,807.45ZM370.51,809.30 370.69,809.53 370.65,809.81 370.43,809.99 370.14,809.95 369.49,809.59 369.31,809.36 369.35,809.07 369.57,808.90 369.86,808.93ZM373.13,810.76 373.31,810.98 373.28,811.27 373.05,811.45 372.77,811.41 372.11,811.05 371.93,810.83 371.96,810.54 372.19,810.36 372.47,810.40ZM375.76,812.20 375.94,812.42 375.91,812.71 375.69,812.89 375.40,812.86 374.74,812.50 374.56,812.28 374.59,811.99 374.81,811.81 375.10,811.84ZM378.40,813.62 378.58,813.85 378.55,814.13 378.33,814.31 378.04,814.28 377.38,813.93 377.20,813.71 377.23,813.42 377.45,813.24 377.74,813.27ZM381.04,815.03 381.23,815.25 381.20,815.54 380.98,815.72 380.69,815.69 380.03,815.34 379.85,815.12 379.87,814.84 380.09,814.65 380.38,814.68ZM383.70,816.42 383.88,816.64 383.86,816.93 383.64,817.11 383.35,817.09 382.69,816.74 382.50,816.52 382.53,816.23 382.75,816.05 383.03,816.08ZM386.36,817.79 386.55,818.01 386.53,818.30 386.31,818.49 386.02,818.46 385.35,818.12 385.17,817.90 385.19,817.62 385.41,817.43 385.70,817.45ZM389.04,819.15 389.22,819.37 389.20,819.66 388.98,819.84 388.70,819.82 388.03,819.48 387.84,819.27 387.86,818.98 388.08,818.79 388.37,818.81ZM391.72,820.49 391.91,820.71 391.89,821.00 391.67,821.18 391.38,821.16 390.71,820.83 390.52,820.61 390.54,820.33 390.76,820.14 391.05,820.16ZM394.41,821.82 394.60,822.03 394.58,822.32 394.36,822.51 394.08,822.49 393.40,822.16 393.21,821.95 393.23,821.66 393.45,821.47 393.73,821.49ZM397.10,823.13 397.29,823.34 397.28,823.63 397.06,823.82 396.78,823.80 396.10,823.48 395.91,823.26 395.93,822.98 396.14,822.78 396.43,822.80ZM399.81,824.42 400.00,824.63 399.99,824.92 399.77,825.11 399.49,825.10 398.81,824.78 398.62,824.56 398.63,824.28 398.84,824.08 399.13,824.10ZM402.52,825.70 402.71,825.91 402.70,826.20 402.49,826.39 402.20,826.38 401.52,826.06 401.33,825.85 401.34,825.56 401.55,825.37 401.84,825.38ZM405.24,826.96 405.43,827.17 405.42,827.46 405.21,827.65 404.92,827.64 404.24,827.33 404.05,827.12 404.06,826.83 404.27,826.64 404.56,826.65ZM407.96,828.21 408.16,828.42 408.15,828.71 407.94,828.90 407.65,828.89 406.97,828.58 406.78,828.37 406.78,828.08 406.99,827.89 407.28,827.90ZM410.70,829.44 410.89,829.65 410.89,829.94 410.68,830.14 410.39,830.13 409.71,829.82 409.51,829.61 409.52,829.32 409.73,829.13 410.01,829.14ZM413.44,830.66 413.63,830.87 413.63,831.16 413.42,831.35 413.13,831.35 412.45,831.04 412.25,830.84 412.26,830.55 412.46,830.35 412.75,830.36ZM416.18,831.87 416.38,832.07 416.38,832.36 416.17,832.56 415.88,832.55 415.19,832.25 414.99,832.05 415.00,831.76 415.21,831.56 415.49,831.57ZM418.93,833.06 419.13,833.26 419.13,833.55 418.92,833.75 418.64,833.75 417.95,833.45 417.75,833.24 417.75,832.96 417.96,832.76 418.24,832.76ZM421.69,834.23 421.89,834.44 421.89,834.72 421.68,834.93 421.40,834.92 420.71,834.63 420.51,834.43 420.51,834.14 420.71,833.94 421.00,833.94ZM424.45,835.40 424.66,835.60 424.66,835.89 424.45,836.09 424.16,836.09 423.47,835.80 423.27,835.59 423.27,835.31 423.48,835.10 423.76,835.11ZM427.22,836.54 427.43,836.75 427.43,837.03 427.22,837.24 426.94,837.24 426.24,836.95 426.04,836.75 426.04,836.46 426.24,836.26 426.53,836.26ZM430.00,837.68 430.20,837.88 430.20,838.17 430.00,838.37 429.72,838.38 429.02,838.09 428.82,837.89 428.81,837.60 429.02,837.40 429.30,837.40ZM432.78,838.80 432.98,839.00 432.99,839.29 432.79,839.50 432.50,839.50 431.80,839.22 431.60,839.02 431.59,838.73 431.80,838.53 432.08,838.52ZM435.56,839.91 435.77,840.11 435.77,840.40 435.57,840.61 435.29,840.61 434.59,840.33 434.38,840.13 434.38,839.85 434.58,839.64 434.87,839.64ZM438.35,841.01 438.56,841.21 438.57,841.50 438.37,841.70 438.08,841.71 437.38,841.44 437.17,841.24 437.17,840.95 437.37,840.74 437.65,840.74ZM441.15,842.10 441.36,842.29 441.36,842.58 441.17,842.79 440.88,842.80 440.18,842.53 439.97,842.33 439.96,842.04 440.16,841.83 440.45,841.83ZM443.95,843.17 444.16,843.37 444.16,843.65 443.97,843.86 443.68,843.87 442.98,843.60 442.77,843.41 442.76,843.12 442.96,842.91 443.25,842.90ZM446.75,844.23 446.96,844.43 446.97,844.71 446.78,844.92 446.49,844.93 445.79,844.67 445.58,844.47 445.57,844.19 445.76,843.98 446.05,843.97ZM449.56,845.28 449.77,845.48 449.78,845.76 449.59,845.97 449.30,845.98 448.60,845.72 448.39,845.53 448.38,845.24 448.57,845.03 448.86,845.02ZM452.37,846.32 452.59,846.51 452.60,846.80 452.40,847.01 452.12,847.02 451.41,846.76 451.20,846.57 451.19,846.28 451.38,846.07 451.67,846.06ZM455.19,847.34 455.40,847.54 455.42,847.82 455.22,848.04 454.94,848.05 454.23,847.79 454.02,847.60 454.01,847.31 454.20,847.10 454.49,847.09ZM458.01,848.36 458.23,848.55 458.24,848.84 458.05,849.05 457.76,849.06 457.05,848.81 456.84,848.62 456.83,848.33 457.02,848.12 457.31,848.11ZM460.84,849.36 461.05,849.55 461.07,849.84 460.88,850.05 460.59,850.07 459.88,849.82 459.67,849.63 459.65,849.34 459.85,849.13 460.13,849.11ZM463.67,850.35 463.88,850.55 463.90,850.83 463.71,851.05 463.42,851.06 462.71,850.82 462.50,850.62 462.48,850.34 462.67,850.12 462.96,850.11ZM466.50,851.34 466.72,851.53 466.73,851.81 466.54,852.03 466.26,852.05 465.55,851.80 465.33,851.61 465.32,851.32 465.51,851.11 465.79,851.09ZM469.34,852.31 469.55,852.50 469.57,852.78 469.38,853.00 469.10,853.02 468.39,852.77 468.17,852.59 468.15,852.30 468.34,852.08 468.63,852.06ZM472.18,853.27 472.40,853.45 472.42,853.74 472.23,853.96 471.94,853.98 471.23,853.74 471.01,853.55 470.99,853.26 471.18,853.05 471.47,853.03ZM475.02,854.21 475.24,854.40 475.26,854.69 475.07,854.91 474.79,854.93 474.08,854.69 473.86,854.50 473.84,854.22 474.03,854.00 474.31,853.98ZM477.87,855.15 478.09,855.34 478.11,855.62 477.93,855.84 477.64,855.86 476.93,855.63 476.71,855.44 476.69,855.16 476.87,854.94 477.16,854.92ZM480.72,856.08 480.94,856.26 480.97,856.55 480.78,856.77 480.49,856.79 479.78,856.56 479.56,856.38 479.54,856.09 479.73,855.87 480.01,855.85ZM483.58,857.00 483.80,857.18 483.82,857.47 483.64,857.69 483.35,857.71 482.64,857.48 482.42,857.30 482.39,857.01 482.58,856.79 482.87,856.77ZM486.44,857.90 486.66,858.09 486.68,858.37 486.50,858.59 486.21,858.62 485.50,858.39 485.28,858.21 485.25,857.92 485.44,857.70 485.72,857.68ZM489.30,858.80 489.52,858.98 489.55,859.27 489.36,859.49 489.08,859.51 488.36,859.29 488.14,859.11 488.11,858.82 488.30,858.60 488.58,858.57ZM492.17,859.68 492.39,859.86 492.41,860.15 492.23,860.37 491.95,860.40 491.23,860.18 491.01,859.99 490.98,859.71 491.16,859.49 491.45,859.46ZM495.03,860.56 495.26,860.74 495.28,861.02 495.10,861.25 494.82,861.27 494.10,861.06 493.88,860.87 493.85,860.59 494.03,860.37 494.32,860.34ZM497.91,861.42 498.13,861.60 498.16,861.89 497.98,862.11 497.69,862.14 496.97,861.92 496.75,861.74 496.72,861.46 496.90,861.23 497.19,861.21ZM500.78,862.28 501.00,862.46 501.03,862.74 500.85,862.96 500.57,862.99 499.85,862.78 499.62,862.60 499.59,862.32 499.77,862.09 500.06,862.06ZM503.66,863.12 503.88,863.30 503.91,863.58 503.73,863.81 503.45,863.84 502.73,863.63 502.50,863.45 502.47,863.16 502.65,862.94 502.94,862.91ZM506.54,863.95 506.76,864.13 506.79,864.42 506.61,864.64 506.33,864.67 505.61,864.47 505.38,864.29 505.35,864.00 505.53,863.78 505.82,863.75ZM509.42,864.78 509.64,864.96 509.68,865.24 509.50,865.47 509.21,865.50 508.49,865.30 508.27,865.12 508.24,864.83 508.41,864.61 508.70,864.57ZM512.31,865.59 512.53,865.77 512.57,866.06 512.39,866.28 512.10,866.32 511.38,866.11 511.16,865.94 511.12,865.65 511.30,865.43 511.58,865.39ZM515.19,866.40 515.42,866.58 515.46,866.86 515.28,867.09 514.99,867.12 514.27,866.92 514.05,866.74 514.01,866.46 514.19,866.23 514.47,866.20ZM518.09,867.20 518.31,867.37 518.35,867.66 518.17,867.88 517.89,867.92 517.16,867.72 516.94,867.54 516.90,867.26 517.08,867.03 517.36,867.00ZM520.98,867.98 521.21,868.16 521.24,868.44 521.07,868.67 520.78,868.71 520.06,868.51 519.83,868.33 519.80,868.05 519.97,867.82 520.26,867.79ZM523.88,868.76 524.10,868.93 524.14,869.22 523.97,869.45 523.68,869.48 522.96,869.29 522.73,869.12 522.69,868.83 522.87,868.60 523.15,868.57ZM526.77,869.53 527.00,869.70 527.04,869.99 526.87,870.21 526.58,870.25 525.86,870.06 525.63,869.89 525.59,869.60 525.76,869.37 526.05,869.34ZM529.68,870.29 529.90,870.46 529.94,870.74 529.77,870.97 529.49,871.01 528.76,870.82 528.53,870.65 528.49,870.37 528.67,870.14 528.95,870.10ZM532.58,871.04 532.81,871.21 532.85,871.49 532.68,871.72 532.39,871.76 531.67,871.58 531.44,871.40 531.40,871.12 531.57,870.89 531.85,870.85ZM535.49,871.78 535.72,871.95 535.76,872.23 535.58,872.46 535.30,872.50 534.57,872.32 534.34,872.15 534.30,871.86 534.47,871.63 534.76,871.59ZM538.39,872.51 538.62,872.68 538.67,872.96 538.50,873.19 538.21,873.24 537.48,873.05 537.25,872.88 537.21,872.60 537.38,872.37 537.67,872.33ZM541.30,873.23 541.53,873.40 541.58,873.69 541.41,873.92 541.12,873.96 540.40,873.78 540.16,873.61 540.12,873.33 540.29,873.09 540.58,873.05ZM544.22,873.95 544.45,874.12 544.49,874.40 544.32,874.63 544.04,874.68 543.31,874.50 543.08,874.33 543.03,874.04 543.20,873.81 543.49,873.77ZM547.13,874.65 547.36,874.82 547.41,875.11 547.24,875.34 546.96,875.38 546.23,875.21 545.99,875.04 545.95,874.75 546.12,874.52 546.40,874.48ZM550.05,875.35 550.28,875.52 550.33,875.80 550.16,876.03 549.87,876.08 549.14,875.91 548.91,875.74 548.87,875.45 549.03,875.22 549.32,875.18ZM552.97,876.04 553.20,876.21 553.25,876.49 553.08,876.72 552.79,876.77 552.06,876.60 551.83,876.43 551.79,876.15 551.95,875.91 552.24,875.87ZM555.89,876.72 556.12,876.89 556.17,877.17 556.00,877.40 555.72,877.45 554.99,877.28 554.75,877.12 554.71,876.83 554.87,876.60 555.16,876.55ZM558.81,877.39 559.04,877.56 559.09,877.84 558.92,878.08 558.64,878.13 557.91,877.96 557.68,877.79 557.63,877.51 557.80,877.27 558.08,877.23ZM561.73,878.06 561.97,878.23 562.02,878.51 561.85,878.74 561.57,878.79 560.84,878.63 560.60,878.46 560.55,878.18 560.72,877.94 561.00,877.89ZM564.66,878.72 564.89,878.88 564.94,879.16 564.78,879.40 564.50,879.45 563.76,879.29 563.53,879.12 563.48,878.84 563.64,878.60 563.93,878.55ZM567.59,879.37 567.82,879.53 567.87,879.81 567.71,880.05 567.43,880.10 566.69,879.94 566.46,879.77 566.41,879.49 566.57,879.25 566.85,879.20ZM570.52,880.01 570.75,880.17 570.80,880.45 570.64,880.69 570.36,880.74 569.62,880.58 569.39,880.42 569.34,880.13 569.50,879.90 569.78,879.85ZM573.45,880.64 573.68,880.81 573.74,881.09 573.57,881.32 573.29,881.38 572.56,881.22 572.32,881.05 572.27,880.77 572.43,880.54 572.71,880.48ZM576.38,881.27 576.62,881.43 576.67,881.71 576.51,881.95 576.22,882.00 575.49,881.85 575.25,881.68 575.20,881.40 575.37,881.16 575.65,881.11ZM579.32,881.89 579.55,882.05 579.61,882.33 579.44,882.57 579.16,882.62 578.43,882.47 578.19,882.31 578.14,882.02 578.30,881.79 578.58,881.73ZM582.25,882.50 582.49,882.66 582.54,882.94 582.38,883.18 582.10,883.23 581.36,883.08 581.13,882.92 581.07,882.64 581.24,882.40 581.52,882.35ZM585.19,883.10 585.43,883.27 585.48,883.55 585.32,883.79 585.04,883.84 584.30,883.69 584.07,883.53 584.01,883.25 584.17,883.01 584.45,882.95ZM588.13,883.70 588.37,883.86 588.42,884.14 588.26,884.38 587.98,884.44 587.24,884.29 587.01,884.13 586.95,883.85 587.11,883.61 587.39,883.55ZM591.07,884.29 591.31,884.45 591.36,884.73 591.20,884.97 590.92,885.03 590.19,884.88 589.95,884.72 589.89,884.44 590.05,884.20 590.33,884.15ZM594.01,884.88 594.25,885.04 594.30,885.32 594.15,885.56 593.86,885.61 593.13,885.47 592.89,885.31 592.83,885.03 592.99,884.79 593.27,884.73ZM596.95,885.45 597.19,885.61 597.25,885.89 597.09,886.13 596.81,886.19 596.07,886.05 595.83,885.89 595.78,885.61 595.94,885.37 596.22,885.31ZM599.90,886.03 600.14,886.18 600.19,886.46 600.04,886.70 599.76,886.76 599.02,886.62 598.78,886.46 598.72,886.18 598.88,885.94 599.16,885.88ZM602.84,886.59 603.08,886.75 603.14,887.03 602.98,887.27 602.70,887.33 601.97,887.19 601.73,887.03 601.67,886.75 601.83,886.51 602.11,886.45ZM605.79,887.15 606.03,887.30 606.09,887.59 605.93,887.83 605.65,887.88 604.91,887.75 604.67,887.59 604.61,887.31 604.77,887.07 605.05,887.01ZM608.74,887.70 608.98,887.85 609.04,888.14 608.88,888.38 608.60,888.44 607.86,888.30 607.62,888.14 607.56,887.86 607.72,887.62 608.00,887.56ZM611.69,888.24 611.93,888.40 611.99,888.68 611.83,888.92 611.55,888.98 610.81,888.85 610.57,888.69 610.51,888.41 610.67,888.17 610.95,888.11ZM614.64,888.78 614.88,888.94 614.94,889.22 614.78,889.46 614.50,889.52 613.77,889.39 613.52,889.23 613.46,888.95 613.62,888.71 613.90,888.65ZM617.59,889.32 617.83,889.47 617.89,889.75 617.74,889.99 617.46,890.05 616.72,889.92 616.48,889.77 616.42,889.49 616.57,889.24 616.85,889.18ZM620.54,889.84 620.78,890.00 620.85,890.28 620.69,890.52 620.41,890.58 619.67,890.45 619.43,890.30 619.37,890.02 619.52,889.77 619.80,889.71ZM623.50,890.36 623.74,890.52 623.80,890.80 623.65,891.04 623.37,891.10 622.63,890.97 622.38,890.82 622.32,890.54 622.48,890.30 622.76,890.23ZM626.45,890.88 626.69,891.03 626.75,891.31 626.60,891.56 626.32,891.62 625.58,891.49 625.34,891.34 625.28,891.06 625.43,890.81 625.71,890.75ZM629.41,891.39 629.65,891.54 629.71,891.82 629.56,892.07 629.28,892.13 628.54,892.00 628.30,891.85 628.23,891.57 628.39,891.33 628.67,891.26ZM632.36,891.90 632.60,892.05 632.67,892.33 632.52,892.57 632.24,892.64 631.50,892.51 631.25,892.36 631.19,892.08 631.34,891.83 631.62,891.77ZM635.32,892.40 635.56,892.55 635.63,892.83 635.47,893.07 635.19,893.13 634.46,893.01 634.21,892.86 634.15,892.58 634.30,892.34 634.58,892.27ZM638.28,892.89 638.52,893.04 638.59,893.32 638.43,893.56 638.15,893.63 637.41,893.51 637.17,893.35 637.11,893.07 637.26,892.83 637.54,892.77ZM641.24,893.38 641.48,893.53 641.55,893.81 641.39,894.05 641.11,894.12 640.37,894.00 640.13,893.85 640.07,893.57 640.22,893.32 640.50,893.26ZM644.20,893.86 644.44,894.01 644.51,894.29 644.36,894.54 644.08,894.60 643.34,894.48 643.09,894.33 643.03,894.05 643.18,893.81 643.46,893.74ZM647.16,894.34 647.40,894.49 647.47,894.77 647.32,895.02 647.04,895.08 646.30,894.96 646.05,894.81 645.99,894.53 646.14,894.29 646.42,894.22ZM650.12,894.82 650.36,894.97 650.43,895.25 650.28,895.49 650.00,895.56 649.26,895.44 649.02,895.29 648.95,895.01 649.10,894.77 649.38,894.70ZM653.08,895.29 653.33,895.44 653.39,895.72 653.24,895.96 652.96,896.03 652.22,895.91 651.98,895.76 651.91,895.48 652.06,895.24 652.34,895.17ZM656.04,895.75 656.29,895.90 656.36,896.18 656.21,896.43 655.93,896.49 655.19,896.38 654.94,896.23 654.88,895.95 655.02,895.70 655.30,895.64ZM659.01,896.21 659.25,896.36 659.32,896.64 659.17,896.89 658.89,896.95 658.15,896.84 657.91,896.69 657.84,896.41 657.99,896.17 658.27,896.10ZM661.97,896.67 662.22,896.82 662.29,897.10 662.14,897.34 661.86,897.41 661.12,897.30 660.87,897.15 660.80,896.87 660.95,896.62 661.23,896.56ZM664.94,897.12 665.18,897.27 665.25,897.55 665.10,897.79 664.83,897.86 664.08,897.75 663.84,897.60 663.77,897.32 663.92,897.08 664.20,897.01ZM667.90,897.57 668.15,897.72 668.22,898.00 668.07,898.24 667.79,898.31 667.05,898.20 666.80,898.05 666.74,897.77 666.88,897.53 667.16,897.46ZM670.87,898.01 671.12,898.16 671.19,898.44 671.04,898.69 670.76,898.76 670.02,898.64 669.77,898.50 669.70,898.22 669.85,897.97 670.13,897.90ZM673.84,898.45 674.08,898.60 674.15,898.88 674.01,899.13 673.73,899.20 672.99,899.09 672.74,898.94 672.67,898.66 672.82,898.41 673.10,898.34ZM676.81,898.89 677.05,899.04 677.12,899.32 676.97,899.56 676.70,899.63 675.95,899.52 675.71,899.38 675.64,899.10 675.78,898.85 676.06,898.78ZM679.77,899.32 680.02,899.47 680.09,899.75 679.94,899.99 679.67,900.06 678.92,899.96 678.68,899.81 678.61,899.53 678.75,899.29 679.03,899.21ZM682.74,899.75 682.99,899.90 683.06,900.18 682.91,900.42 682.64,900.49 681.89,900.39 681.65,900.24 681.58,899.96 681.72,899.72 682.00,899.64ZM685.71,900.18 685.96,900.32 686.03,900.60 685.88,900.85 685.61,900.92 684.86,900.81 684.62,900.67 684.54,900.39 684.69,900.14 684.97,900.07ZM688.68,900.60 688.93,900.75 689.00,901.02 688.85,901.27 688.58,901.34 687.83,901.24 687.59,901.09 687.51,900.81 687.66,900.57 687.94,900.49ZM691.65,901.02 691.90,901.16 691.97,901.44 691.82,901.69 691.55,901.76 690.80,901.66 690.56,901.51 690.48,901.23 690.63,900.99 690.91,900.91ZM694.62,901.43 694.87,901.58 694.94,901.86 694.80,902.10 694.52,902.18 693.78,902.07 693.53,901.93 693.46,901.65 693.60,901.40 693.88,901.33ZM697.59,901.85 697.84,901.99 697.91,902.27 697.77,902.52 697.49,902.59 696.75,902.49 696.50,902.34 696.43,902.06 696.57,901.82 696.85,901.74ZM700.56,902.26 700.81,902.40 700.88,902.68 700.74,902.93 700.46,903.00 699.72,902.90 699.47,902.75 699.40,902.47 699.54,902.23 699.82,902.15ZM703.54,902.66 703.78,902.81 703.86,903.09 703.71,903.33 703.43,903.41 702.69,903.30 702.44,903.16 702.37,902.88 702.52,902.63 702.79,902.56ZM706.51,903.07 706.76,903.21 706.83,903.49 706.69,903.74 706.41,903.81 705.66,903.71 705.42,903.57 705.34,903.29 705.49,903.04 705.77,902.97ZM709.48,903.47 709.73,903.61 709.80,903.89 709.66,904.14 709.38,904.21 708.64,904.11 708.39,903.97 708.32,903.69 708.46,903.44 708.74,903.37ZM712.45,903.87 712.70,904.01 712.78,904.29 712.63,904.54 712.35,904.61 711.61,904.51 711.36,904.37 711.29,904.09 711.43,903.84 711.71,903.77ZM715.43,904.26 715.68,904.41 715.75,904.69 715.61,904.93 715.33,905.01 714.59,904.91 714.34,904.77 714.26,904.49 714.41,904.24 714.68,904.17ZM718.40,904.66 718.65,904.80 718.72,905.08 718.58,905.33 718.30,905.40 717.56,905.30 717.31,905.16 717.24,904.88 717.38,904.63 717.66,904.56ZM721.38,905.05 721.62,905.19 721.70,905.47 721.55,905.72 721.28,905.79 720.53,905.70 720.29,905.55 720.21,905.28 720.35,905.03 720.63,904.95ZM724.35,905.44 724.60,905.58 724.67,905.86 724.53,906.11 724.25,906.19 723.51,906.09 723.26,905.94 723.19,905.67 723.33,905.42 723.61,905.34ZM727.32,905.83 727.57,905.97 727.65,906.25 727.50,906.50 727.23,906.57 726.48,906.48 726.23,906.33 726.16,906.06 726.30,905.81 726.58,905.73ZM730.30,906.22 730.55,906.36 730.62,906.64 730.48,906.88 730.20,906.96 729.46,906.86 729.21,906.72 729.14,906.44 729.28,906.19 729.56,906.12ZM733.27,906.60 733.52,906.74 733.60,907.02 733.46,907.27 733.18,907.34 732.43,907.25 732.19,907.10 732.11,906.83 732.25,906.58 732.53,906.50ZM736.25,906.98 736.50,907.12 736.57,907.40 736.43,907.65 736.15,907.72 735.41,907.63 735.16,907.49 735.09,907.21 735.23,906.96 735.51,906.89ZM739.23,907.36 739.47,907.50 739.55,907.78 739.41,908.03 739.13,908.10 738.39,908.01 738.14,907.87 738.06,907.59 738.20,907.34 738.48,907.27ZM742.20,907.74 742.45,907.88 742.53,908.16 742.38,908.41 742.11,908.48 741.36,908.39 741.11,908.25 741.04,907.97 741.18,907.72 741.46,907.64ZM745.18,908.11 745.43,908.26 745.50,908.53 745.36,908.78 745.08,908.86 744.34,908.76 744.09,908.62 744.01,908.34 744.16,908.10 744.43,908.02ZM748.15,908.49 748.40,908.63 748.48,908.91 748.34,909.15 748.06,909.23 747.32,909.14 747.07,909.00 746.99,908.72 747.13,908.47 747.41,908.39ZM751.13,908.86 751.38,909.00 751.46,909.28 751.31,909.53 751.04,909.60 750.29,909.51 750.04,909.37 749.97,909.09 750.11,908.84 750.39,908.77ZM754.11,909.23 754.36,909.37 754.43,909.64 754.29,909.89 754.02,909.97 753.27,909.88 753.02,909.74 752.94,909.46 753.09,909.21 753.36,909.13ZM757.08,909.59 757.33,909.74 757.41,910.01 757.27,910.26 756.99,910.34 756.25,910.25 756.00,910.11 755.92,909.83 756.06,909.58 756.34,909.50ZM760.06,909.96 760.31,910.10 760.39,910.38 760.25,910.63 759.97,910.70 759.23,910.61 758.98,910.47 758.90,910.19 759.04,909.94 759.32,909.87ZM763.04,910.32 763.29,910.46 763.37,910.74 763.23,910.99 762.95,911.07 762.20,910.98 761.95,910.83 761.88,910.56 762.02,910.31 762.30,910.23ZM766.02,910.68 766.27,910.82 766.34,911.10 766.20,911.35 765.93,911.43 765.18,911.34 764.93,911.20 764.86,910.92 765.00,910.67 765.27,910.59ZM769.00,911.04 769.25,911.18 769.32,911.46 769.18,911.71 768.91,911.79 768.16,911.70 767.91,911.56 767.83,911.28 767.97,911.03 768.25,910.95ZM771.97,911.40 772.22,911.54 772.30,911.81 772.16,912.06 771.89,912.14 771.14,912.05 770.89,911.91 770.81,911.64 770.95,911.39 771.23,911.31ZM774.95,911.75 775.20,911.89 775.28,912.17 775.14,912.42 774.86,912.50 774.12,912.41 773.87,912.27 773.79,911.99 773.93,911.74 774.21,911.66ZM777.93,912.10 778.18,912.24 778.26,912.52 778.12,912.77 777.84,912.85 777.10,912.76 776.85,912.62 776.77,912.35 776.91,912.09 777.19,912.02ZM780.91,912.46 781.16,912.59 781.24,912.87 781.10,913.12 780.82,913.20 780.08,913.11 779.83,912.97 779.75,912.70 779.89,912.45 780.17,912.37ZM783.89,912.80 784.14,912.94 784.22,913.22 784.08,913.47 783.80,913.55 783.06,913.46 782.81,913.32 782.73,913.05 782.87,912.79 783.15,912.72ZM786.87,913.15 787.12,913.29 787.20,913.57 787.06,913.82 786.78,913.89 786.04,913.81 785.79,913.67 785.71,913.39 785.85,913.14 786.13,913.06ZM789.85,913.49 790.10,913.63 790.18,913.91 790.04,914.16 789.76,914.24 789.02,914.15 788.77,914.01 788.69,913.74 788.83,913.49 789.11,913.41ZM792.83,913.84 793.08,913.97 793.16,914.25 793.02,914.50 792.75,914.58 792.00,914.50 791.75,914.36 791.67,914.08 791.81,913.83 792.09,913.75ZM795.81,914.18 796.06,914.31 796.14,914.59 796.00,914.84 795.73,914.92 794.98,914.84 794.73,914.70 794.65,914.42 794.79,914.17 795.07,914.09ZM798.79,914.51 799.04,914.65 799.12,914.93 798.98,915.18 798.71,915.26 797.96,915.17 797.71,915.04 797.63,914.76 797.77,914.51 798.05,914.43ZM801.77,914.85 802.02,914.99 802.10,915.26 801.96,915.52 801.69,915.59 800.94,915.51 800.69,915.37 800.61,915.10 800.75,914.85 801.03,914.77ZM804.75,915.18 805.00,915.32 805.08,915.60 804.95,915.85 804.67,915.93 803.92,915.85 803.67,915.71 803.59,915.43 803.73,915.18 804.01,915.10ZM807.73,915.51 807.99,915.65 808.07,915.93 807.93,916.18 807.65,916.26 806.91,916.18 806.66,916.04 806.58,915.76 806.71,915.51 806.99,915.43ZM810.72,915.84 810.97,915.98 811.05,916.26 810.91,916.51 810.63,916.59 809.89,916.51 809.64,916.37 809.56,916.09 809.70,915.84 809.97,915.76ZM813.70,916.17 813.95,916.31 814.03,916.59 813.89,916.84 813.62,916.92 812.87,916.84 812.62,916.70 812.54,916.42 812.68,916.17 812.95,916.09ZM816.68,916.50 816.93,916.64 817.01,916.91 816.87,917.16 816.60,917.24 815.85,917.16 815.60,917.02 815.52,916.75 815.66,916.50 815.93,916.42ZM819.66,916.82 819.91,916.96 819.99,917.23 819.86,917.49 819.58,917.57 818.84,917.49 818.58,917.35 818.50,917.07 818.64,916.82 818.92,916.74ZM822.64,917.14 822.90,917.28 822.98,917.55 822.84,917.81 822.56,917.89 821.82,917.81 821.57,917.67 821.49,917.39 821.62,917.14 821.90,917.06ZM825.63,917.46 825.88,917.60 825.96,917.87 825.82,918.13 825.55,918.21 824.80,918.13 824.55,917.99 824.47,917.71 824.61,917.46 824.88,917.38ZM828.61,917.78 828.86,917.92 828.94,918.19 828.81,918.44 828.53,918.52 827.79,918.45 827.53,918.31 827.45,918.03 827.59,917.78 827.86,917.70ZM831.59,918.09 831.85,918.23 831.93,918.51 831.79,918.76 831.52,918.84 830.77,918.76 830.52,918.62 830.44,918.35 830.57,918.10 830.85,918.01ZM834.58,918.41 834.83,918.54 834.91,918.82 834.77,919.07 834.50,919.15 833.75,919.07 833.50,918.94 833.42,918.66 833.56,918.41 833.83,918.33ZM837.56,918.72 837.81,918.85 837.89,919.13 837.76,919.38 837.48,919.46 836.74,919.39 836.48,919.25 836.40,918.97 836.54,918.72 836.81,918.64ZM840.54,919.03 840.80,919.16 840.88,919.44 840.74,919.69 840.47,919.77 839.72,919.70 839.47,919.56 839.39,919.28 839.52,919.03 839.80,918.95ZM843.53,919.33 843.78,919.47 843.86,919.74 843.73,920.00 843.45,920.08 842.71,920.00 842.45,919.87 842.37,919.59 842.51,919.34 842.78,919.26ZM846.51,919.64 846.77,919.77 846.85,920.05 846.71,920.30 846.44,920.38 845.69,920.31 845.44,920.17 845.36,919.90 845.49,919.64 845.77,919.56ZM849.50,919.94 849.75,920.08 849.83,920.35 849.70,920.60 849.42,920.69 848.68,920.61 848.42,920.48 848.34,920.20 848.48,919.95 848.75,919.87ZM852.48,920.24 852.73,920.38 852.82,920.65 852.68,920.91 852.41,920.99 851.66,920.91 851.41,920.78 851.32,920.50 851.46,920.25 851.74,920.17ZM855.47,920.54 855.72,920.68 855.80,920.95 855.67,921.20 855.39,921.29 854.65,921.21 854.39,921.08 854.31,920.80 854.45,920.55 854.72,920.47ZM858.45,920.84 858.70,920.97 858.79,921.25 858.65,921.50 858.38,921.58 857.63,921.51 857.38,921.37 857.30,921.10 857.43,920.85 857.71,920.76ZM861.44,921.13 861.69,921.27 861.77,921.54 861.64,921.79 861.36,921.88 860.62,921.80 860.36,921.67 860.28,921.39 860.42,921.14 860.69,921.06ZM864.42,921.42 864.68,921.56 864.76,921.83 864.62,922.09 864.35,922.17 863.60,922.10 863.35,921.96 863.27,921.69 863.40,921.43 863.68,921.35ZM867.41,921.71 867.66,921.85 867.74,922.12 867.61,922.38 867.34,922.46 866.59,922.39 866.34,922.25 866.25,921.98 866.39,921.73 866.66,921.64ZM870.39,922.00 870.65,922.14 870.73,922.41 870.60,922.67 870.32,922.75 869.58,922.68 869.32,922.54 869.24,922.27 869.37,922.01 869.65,921.93ZM873.38,922.29 873.63,922.42 873.72,922.70 873.58,922.95 873.31,923.04 872.56,922.96 872.31,922.83 872.22,922.56 872.36,922.30 872.63,922.22ZM876.37,922.57 876.62,922.71 876.70,922.98 876.57,923.24 876.30,923.32 875.55,923.25 875.29,923.11 875.21,922.84 875.35,922.59 875.62,922.50ZM879.35,922.86 879.61,922.99 879.69,923.26 879.56,923.52 879.28,923.60 878.54,923.53 878.28,923.40 878.20,923.12 878.33,922.87 878.61,922.79ZM882.34,923.14 882.59,923.27 882.68,923.54 882.54,923.80 882.27,923.88 881.52,923.81 881.27,923.68 881.18,923.40 881.32,923.15 881.59,923.07ZM885.33,923.41 885.58,923.55 885.66,923.82 885.53,924.08 885.26,924.16 884.51,924.09 884.26,923.96 884.17,923.68 884.30,923.43 884.58,923.34ZM888.31,923.69 888.57,923.82 888.65,924.10 888.52,924.35 888.24,924.44 887.50,924.37 887.24,924.23 887.16,923.96 887.29,923.71 887.57,923.62ZM891.30,923.96 891.55,924.10 891.64,924.37 891.51,924.63 891.23,924.71 890.48,924.64 890.23,924.51 890.15,924.23 890.28,923.98 890.55,923.90ZM894.29,924.24 894.54,924.37 894.63,924.64 894.49,924.90 894.22,924.98 893.47,924.92 893.22,924.78 893.13,924.51 893.27,924.25 893.54,924.17ZM897.28,924.51 897.53,924.64 897.61,924.91 897.48,925.17 897.21,925.25 896.46,925.19 896.21,925.05 896.12,924.78 896.25,924.52 896.53,924.44ZM900.26,924.77 900.52,924.91 900.60,925.18 900.47,925.44 900.20,925.52 899.45,925.45 899.19,925.32 899.11,925.05 899.24,924.79 899.52,924.71ZM903.25,925.04 903.51,925.17 903.59,925.45 903.46,925.70 903.18,925.79 902.44,925.72 902.18,925.59 902.10,925.31 902.23,925.06 902.50,924.97ZM906.24,925.30 906.49,925.44 906.58,925.71 906.45,925.96 906.17,926.05 905.43,925.99 905.17,925.85 905.09,925.58 905.22,925.32 905.49,925.24ZM909.23,925.57 909.48,925.70 909.57,925.97 909.44,926.23 909.16,926.31 908.41,926.25 908.16,926.12 908.07,925.84 908.21,925.59 908.48,925.50ZM912.22,925.83 912.47,925.96 912.56,926.23 912.42,926.49 912.15,926.57 911.40,926.51 911.15,926.38 911.06,926.10 911.19,925.85 911.47,925.76ZM915.20,926.08 915.46,926.22 915.55,926.49 915.41,926.74 915.14,926.83 914.39,926.77 914.14,926.63 914.05,926.36 914.18,926.11 914.46,926.02ZM918.19,926.34 918.45,926.47 918.53,926.74 918.40,927.00 918.13,927.09 917.38,927.02 917.13,926.89 917.04,926.62 917.17,926.36 917.45,926.28ZM921.18,926.59 921.44,926.72 921.52,927.00 921.39,927.25 921.12,927.34 920.37,927.28 920.12,927.15 920.03,926.87 920.16,926.62 920.43,926.53ZM924.17,926.84 924.43,926.98 924.51,927.25 924.38,927.50 924.11,927.59 923.36,927.53 923.11,927.40 923.02,927.12 923.15,926.87 923.42,926.78ZM927.16,927.09 927.42,927.23 927.50,927.50 927.37,927.75 927.10,927.84 926.35,927.78 926.10,927.65 926.01,927.37 926.14,927.12 926.41,927.03ZM930.15,927.34 930.41,927.47 930.49,927.75 930.36,928.00 930.09,928.09 929.34,928.03 929.09,927.90 929.00,927.62 929.13,927.37 929.40,927.28ZM933.14,927.59 933.40,927.72 933.48,927.99 933.35,928.25 933.08,928.34 932.33,928.27 932.08,928.14 931.99,927.87 932.12,927.61 932.39,927.53ZM936.13,927.83 936.39,927.96 936.47,928.24 936.34,928.49 936.07,928.58 935.32,928.52 935.07,928.39 934.98,928.11 935.11,927.86 935.38,927.77ZM939.12,928.07 939.38,928.20 939.46,928.48 939.33,928.73 939.06,928.82 938.31,928.76 938.06,928.63 937.97,928.36 938.10,928.10 938.37,928.01ZM942.11,928.31 942.37,928.44 942.45,928.72 942.32,928.97 942.05,929.06 941.30,929.00 941.05,928.87 940.96,928.60 941.09,928.34 941.36,928.25ZM945.10,928.55 945.36,928.68 945.44,928.95 945.31,929.21 945.04,929.30 944.29,929.24 944.04,929.11 943.95,928.83 944.08,928.58 944.35,928.49ZM948.09,928.79 948.35,928.92 948.44,929.19 948.30,929.44 948.03,929.53 947.28,929.47 947.03,929.34 946.94,929.07 947.07,928.82 947.34,928.73ZM951.08,929.02 951.34,929.15 951.43,929.42 951.30,929.68 951.02,929.77 950.28,929.71 950.02,929.58 949.93,929.31 950.06,929.05 950.33,928.96ZM954.07,929.25 954.33,929.38 954.42,929.65 954.29,929.91 954.01,930.00 953.27,929.94 953.01,929.81 952.92,929.54 953.05,929.28 953.32,929.19ZM957.06,929.48 957.32,929.61 957.41,929.88 957.28,930.14 957.01,930.23 956.26,930.17 956.00,930.04 955.91,929.77 956.04,929.51 956.32,929.42ZM960.05,929.71 960.31,929.84 960.40,930.11 960.27,930.37 960.00,930.46 959.25,930.40 958.99,930.27 958.90,930.00 959.03,929.74 959.31,929.65ZM963.05,929.93 963.30,930.06 963.39,930.34 963.26,930.59 962.99,930.68 962.24,930.62 961.99,930.50 961.90,930.22 962.02,929.97 962.30,929.88ZM966.04,930.16 966.29,930.29 966.38,930.56 966.25,930.81 965.98,930.90 965.23,930.85 964.98,930.72 964.89,930.45 965.02,930.19 965.29,930.10ZM969.03,930.38 969.28,930.51 969.37,930.78 969.25,931.04 968.97,931.13 968.23,931.07 967.97,930.94 967.88,930.67 968.01,930.41 968.28,930.32ZM972.02,930.60 972.28,930.73 972.37,931.00 972.24,931.26 971.97,931.35 971.22,931.29 970.96,931.16 970.87,930.89 971.00,930.63 971.27,930.54ZM975.01,930.82 975.27,930.94 975.36,931.22 975.23,931.47 974.96,931.56 974.21,931.51 973.95,931.38 973.86,931.11 973.99,930.85 974.26,930.76ZM978.00,931.03 978.26,931.16 978.35,931.43 978.22,931.69 977.95,931.78 977.20,931.73 976.95,931.60 976.85,931.32 976.98,931.07 977.26,930.98ZM981.00,931.24 981.25,931.37 981.34,931.64 981.22,931.90 980.94,931.99 980.19,931.94 979.94,931.81 979.85,931.54 979.98,931.28 980.25,931.19ZM983.99,931.46 984.25,931.58 984.34,931.86 984.21,932.11 983.94,932.20 983.19,932.15 982.93,932.02 982.84,931.75 982.97,931.49 983.24,931.40ZM986.98,931.67 987.24,931.79 987.33,932.07 987.20,932.32 986.93,932.41 986.18,932.36 985.92,932.23 985.83,931.96 985.96,931.70 986.23,931.61ZM989.97,931.87 990.23,932.00 990.32,932.27 990.19,932.53 989.92,932.62 989.17,932.57 988.92,932.44 988.83,932.17 988.95,931.91 989.23,931.82ZM992.97,932.08 993.22,932.21 993.31,932.48 993.19,932.74 992.91,932.83 992.17,932.78 991.91,932.65 991.82,932.38 991.95,932.12 992.22,932.03ZM995.96,932.28 996.22,932.41 996.31,932.68 996.18,932.94 995.91,933.03 995.16,932.98 994.90,932.85 994.81,932.58 994.94,932.32 995.21,932.23ZM998.95,932.48 999.21,932.61 999.30,932.88 999.17,933.14 998.90,933.23 998.15,933.18 997.90,933.05 997.80,932.78 997.93,932.53 998.20,932.43ZM1001.94,932.68 1002.20,932.81 1002.29,933.08 1002.17,933.34 1001.90,933.43 1001.15,933.38 1000.89,933.25 1000.80,932.98 1000.92,932.73 1001.20,932.63ZM1004.94,932.88 1005.20,933.01 1005.29,933.28 1005.16,933.54 1004.89,933.63 1004.14,933.58 1003.88,933.45 1003.79,933.18 1003.92,932.92 1004.19,932.83ZM1007.93,933.08 1008.19,933.20 1008.28,933.47 1008.15,933.73 1007.88,933.82 1007.13,933.78 1006.88,933.65 1006.78,933.38 1006.91,933.12 1007.18,933.03ZM1010.93,933.27 1011.18,933.40 1011.28,933.67 1011.15,933.93 1010.88,934.02 1010.13,933.97 1009.87,933.84 1009.78,933.57 1009.90,933.31 1010.18,933.22ZM1013.92,933.46 1014.18,933.59 1014.27,933.86 1014.14,934.12 1013.87,934.21 1013.12,934.16 1012.86,934.04 1012.77,933.76 1012.90,933.51 1013.17,933.41ZM1016.91,933.65 1017.17,933.78 1017.26,934.05 1017.14,934.31 1016.87,934.40 1016.12,934.35 1015.86,934.23 1015.77,933.95 1015.89,933.70 1016.16,933.60ZM1019.91,933.84 1020.16,933.96 1020.26,934.24 1020.13,934.49 1019.86,934.59 1019.11,934.54 1018.85,934.41 1018.76,934.14 1018.89,933.89 1019.16,933.79ZM1022.90,934.02 1023.16,934.15 1023.25,934.42 1023.13,934.68 1022.85,934.77 1022.11,934.73 1021.85,934.60 1021.75,934.33 1021.88,934.07 1022.15,933.98ZM1025.89,934.21 1026.15,934.33 1026.25,934.61 1026.12,934.86 1025.85,934.96 1025.10,934.91 1024.84,934.79 1024.75,934.51 1024.87,934.26 1025.15,934.16ZM1028.89,934.39 1029.15,934.52 1029.24,934.79 1029.11,935.05 1028.84,935.14 1028.09,935.09 1027.84,934.97 1027.74,934.70 1027.87,934.44 1028.14,934.34ZM1031.88,934.57 1032.14,934.70 1032.23,934.97 1032.11,935.22 1031.84,935.32 1031.09,935.27 1030.83,935.15 1030.74,934.88 1030.86,934.62 1031.13,934.53ZM1034.88,934.75 1035.14,934.87 1035.23,935.14 1035.10,935.40 1034.83,935.50 1034.08,935.45 1033.83,935.33 1033.73,935.06 1033.86,934.80 1034.13,934.70ZM1037.87,934.92 1038.13,935.05 1038.22,935.32 1038.10,935.58 1037.83,935.67 1037.08,935.63 1036.82,935.50 1036.73,935.23 1036.85,934.97 1037.12,934.88ZM1040.87,935.10 1041.13,935.22 1041.22,935.49 1041.09,935.75 1040.82,935.85 1040.07,935.80 1039.82,935.68 1039.72,935.41 1039.85,935.15 1040.12,935.05Z"/>
<g fill="#0f0"><rect x="269.545" y="728.20" width="2.25" height="349.80"/><circle cx="270.670" cy="728.20" r="1.125"/></g>
<g fill="#000">
<rect x="1077.225" y="98.400" width="0.75" height="942.930"/>
<rect x="1077.600" y="1040.955" width="12.375" height="0.75"/>
<rect x="1077.600" y="895.975" width="12.375" height="0.75"/>
<rect x="1077.600" y="750.995" width="12.375" height="0.75"/>
<rect x="1077.600" y="606.015" width="12.375" height="0.75"/>
<rect x="1077.600" y="461.035" width="12.375" height="0.75"/>
<rect x="1077.600" y="316.055" width="12.375" height="0.75"/>
<rect x="1077.600" y="171.075" width="12.375" height="0.75"/>
</g>
<g transform="translate(134.97,1120.80) scale(1,1.08)" font-size="20">
<text x="-14.00 -3.00 3.00" y="0">0.0</text>
</g>
<g transform="translate(361.64,1120.80) scale(1,1.08)" font-size="20">
<text x="-14.00 -3.00 3.00" y="0">0.5</text>
</g>
<g transform="translate(588.30,1120.80) scale(1,1.08)" font-size="20">
<path class="g" transform="translate(-14.00,0) scale(0.02000,-0.01941)" d="M259 0V505H102V568C200 575 270 625 290 709H347V0Z"/>
<text x="-3.00 3.00" y="0">.0</text>
</g>
<g transform="translate(814.97,1120.80) scale(1,1.08)" font-size="20">
<path class="g" transform="translate(-14.00,0) scale(0.02000,-0.01941)" d="M259 0V505H102V568C200 575 270 625 290 709H347V0Z"/>
<text x="-3.00 3.00" y="0">.5</text>
</g>
<g transform="translate(1041.64,1120.80) scale(1,1.08)" font-size="20">
<text x="-14.00 -3.00 3.00" y="0">2.0</text>
</g>
<g transform="translate(69.60,1041.33) rotate(-90) scale(1,1.065)" font-size="20" style="text-rendering:geometricPrecision">
<text x="-13.90" y="0">0.0</text>
</g>
<g transform="translate(69.60,874.23) rotate(-90) scale(1,1.065)" font-size="20" style="text-rendering:geometricPrecision">
<text x="-13.90" y="0">0.</text>
<path class="g" transform="translate(2.78,0) scale(0.02000,-0.01941)" d="M259 0V505H102V568C200 575 270 625 290 709H347V0Z"/>
</g>
<g transform="translate(69.60,707.13) rotate(-90) scale(1,1.065)" font-size="20" style="text-rendering:geometricPrecision">
<text x="-13.90" y="0">0.2</text>
</g>
<g transform="translate(69.60,540.03) rotate(-90) scale(1,1.065)" font-size="20" style="text-rendering:geometricPrecision">
<text x="-13.90" y="0">0.3</text>
</g>
<g transform="translate(69.60,372.93) rotate(-90) scale(1,1.065)" font-size="20" style="text-rendering:geometricPrecision">
<text x="-13.90" y="0">0.4</text>
</g>
<g transform="translate(69.60,205.83) rotate(-90) scale(1,1.065)" font-size="20" style="text-rendering:geometricPrecision">
<text x="-13.90" y="0">0.5</text>
</g>
<g transform="translate(1120.80,1041.33) rotate(-90) scale(1,1.065)" font-size="20" style="text-rendering:geometricPrecision">
<text x="-5.56" y="0">0</text>
</g>
<g transform="translate(1120.80,896.35) rotate(-90) scale(1,1.065)" font-size="20" style="text-rendering:geometricPrecision">
<path class="g" transform="translate(-5.56,0) scale(0.02000,-0.01941)" d="M259 0V505H102V568C200 575 270 625 290 709H347V0Z"/>
</g>
<g transform="translate(1120.80,751.37) rotate(-90) scale(1,1.065)" font-size="20" style="text-rendering:geometricPrecision">
<text x="-5.56" y="0">2</text>
</g>
<g transform="translate(1120.80,606.39) rotate(-90) scale(1,1.065)" font-size="20" style="text-rendering:geometricPrecision">
<text x="-5.56" y="0">3</text>
</g>
<g transform="translate(1120.80,461.41) rotate(-90) scale(1,1.065)" font-size="20" style="text-rendering:geometricPrecision">
<text x="-5.56" y="0">4</text>
</g>
<g transform="translate(1120.80,316.43) rotate(-90) scale(1,1.065)" font-size="20" style="text-rendering:geometricPrecision">
<text x="-5.56" y="0">5</text>
</g>
<g transform="translate(1120.80,171.45) rotate(-90) scale(1,1.065)" font-size="20" style="text-rendering:geometricPrecision">
<text x="-5.56" y="0">6</text>
</g>
<g transform="translate(21.60,588.60) rotate(-90) scale(1,1.065)" font-size="20" style="text-rendering:geometricPrecision">
<text x="-70.03" y="0">Yield per recruit</text>
</g>
<g transform="translate(1144.80,588.60) rotate(-90) scale(1,1.065)" font-size="20" style="text-rendering:geometricPrecision">
<text x="-67.80" y="0">SSB per recruit</text>
</g>
<g transform="translate(570.20,1164.70) scale(1,1.08)" font-size="20">
<text x="0.00" y="0">F</text>
</g>
<g fill="#000">
<path class="g" transform="translate(582.00,1168.60) scale(0.006836,-0.007109)" d="M1049 389Q1049 194 925.0 87.0Q801 -20 571 -20Q357 -20 229.5 76.5Q102 173 78 362L264 379Q300 129 571 129Q707 129 784.5 196.0Q862 263 862 395Q862 510 773.5 574.5Q685 639 518 639H416V795H514Q662 795 743.5 859.5Q825 924 825 1038Q825 1151 758.5 1216.5Q692 1282 561 1282Q442 1282 368.5 1221.0Q295 1160 283 1049L102 1063Q122 1236 245.5 1333.0Q369 1430 563 1430Q775 1430 892.5 1331.5Q1010 1233 1010 1057Q1010 922 934.5 837.5Q859 753 715 723V719Q873 702 961.0 613.0Q1049 524 1049 389Z"/>
<path class="g" transform="translate(589.79,1168.60) scale(0.006836,-0.007109)" d="M0 451V588H1138V451Z"/>
<path class="g" transform="translate(597.57,1168.60) scale(0.006836,-0.007109)" d="M1036 1263Q820 933 731.0 746.0Q642 559 597.5 377.0Q553 195 553 0H365Q365 270 479.5 568.5Q594 867 862 1256H105V1409H1036Z"/>
<rect x="569.900" y="1146.475" width="12.200" height="0.75"/>
</g>
<g transform="translate(377.50,56.00) scale(1,1.06)" font-size="24">
<text x="0.00" y="0">F</text>
</g>
<g transform="translate(391.90,59.50)" font-size="16.8">
<text x="0.00 14.00 23.00" y="0">max</text>
</g>
<g fill="#000"><rect x="428.00" y="45.9" width="12.9" height="1.3"/><rect x="428.00" y="50.9" width="12.9" height="1.3"/></g>
<g transform="translate(447.00,56.00) scale(1,1.06)" font-size="24">
<text x="0.00 13.00 20.00" y="0">0.6</text>
<path class="g" transform="translate(33.00,0) scale(0.02400,-0.02329)" d="M259 0V505H102V568C200 575 270 625 290 709H347V0Z"/>
</g>
<g transform="translate(523.50,56.00) scale(1,1.06)" font-size="24">
<text x="0.00" y="0">F</text>
</g>
<g transform="translate(537.70,59.50) scale(1,1.06)" font-size="16.8">
<text x="0.00 9.00" y="0">0.</text>
<path class="g" transform="translate(14.00,0) scale(0.01680,-0.01630)" d="M259 0V505H102V568C200 575 270 625 290 709H347V0Z"/>
</g>
<g fill="#000"><rect x="567.00" y="45.9" width="12.9" height="1.3"/><rect x="567.00" y="50.9" width="12.9" height="1.3"/></g>
<g transform="translate(585.50,56.00) scale(1,1.06)" font-size="24">
<text x="0.00 13.00" y="0">0.</text>
<path class="g" transform="translate(20.00,0) scale(0.02400,-0.02329)" d="M259 0V505H102V568C200 575 270 625 290 709H347V0Z"/>
<text x="33.00" y="0">3</text>
</g>
<g transform="translate(661.50,56.00) scale(1,1.06)" font-size="24">
<text x="0.00" y="0">F</text>
</g>
<g transform="translate(675.70,59.50) scale(1,1.06)" font-size="16.8">
<text x="0.00 9.00 14.00 23.00 32.00 43.00 54.00" y="0">0.35SPR</text>
</g>
<g fill="#000"><rect x="748.05" y="45.9" width="12.9" height="1.3"/><rect x="748.05" y="50.9" width="12.9" height="1.3"/></g>
<g transform="translate(766.00,56.00) scale(1,1.06)" font-size="24">
<text x="0.00 13.00 20.00" y="0">0.3</text>
</g>
<g transform="translate(1194.90,1197.60)" font-size="10">
<text x="-235.00 -230.00 -227.00 -221.00 -216.00 -211.00 -205.00 -200.00 -195.00 -189.00 -184.00 -179.00 -171.00 -165.00 -159.00 -156.00 -153.00 -147.00 -144.00 -138.00 -135.00 -132.00 -125.00 -116.00 -107.00 -99.00 -96.00 -90.00 -87.00 -81.00 -75.00 -69.00 -63.00 -57.00 -51.00 -45.00 -39.00 -36.00 -33.00" y="0">stockassessment.org, NWWG-2-2025_had, r</text>
<path class="g" transform="translate(-30.00,0) scale(0.01000,-0.00970)" d="M259 0V505H102V568C200 575 270 625 290 709H347V0Z"/>
<text x="-24.00 -18.00 -12.00 -6.00" y="0">9383</text>
</g>
</svg></body></html>
